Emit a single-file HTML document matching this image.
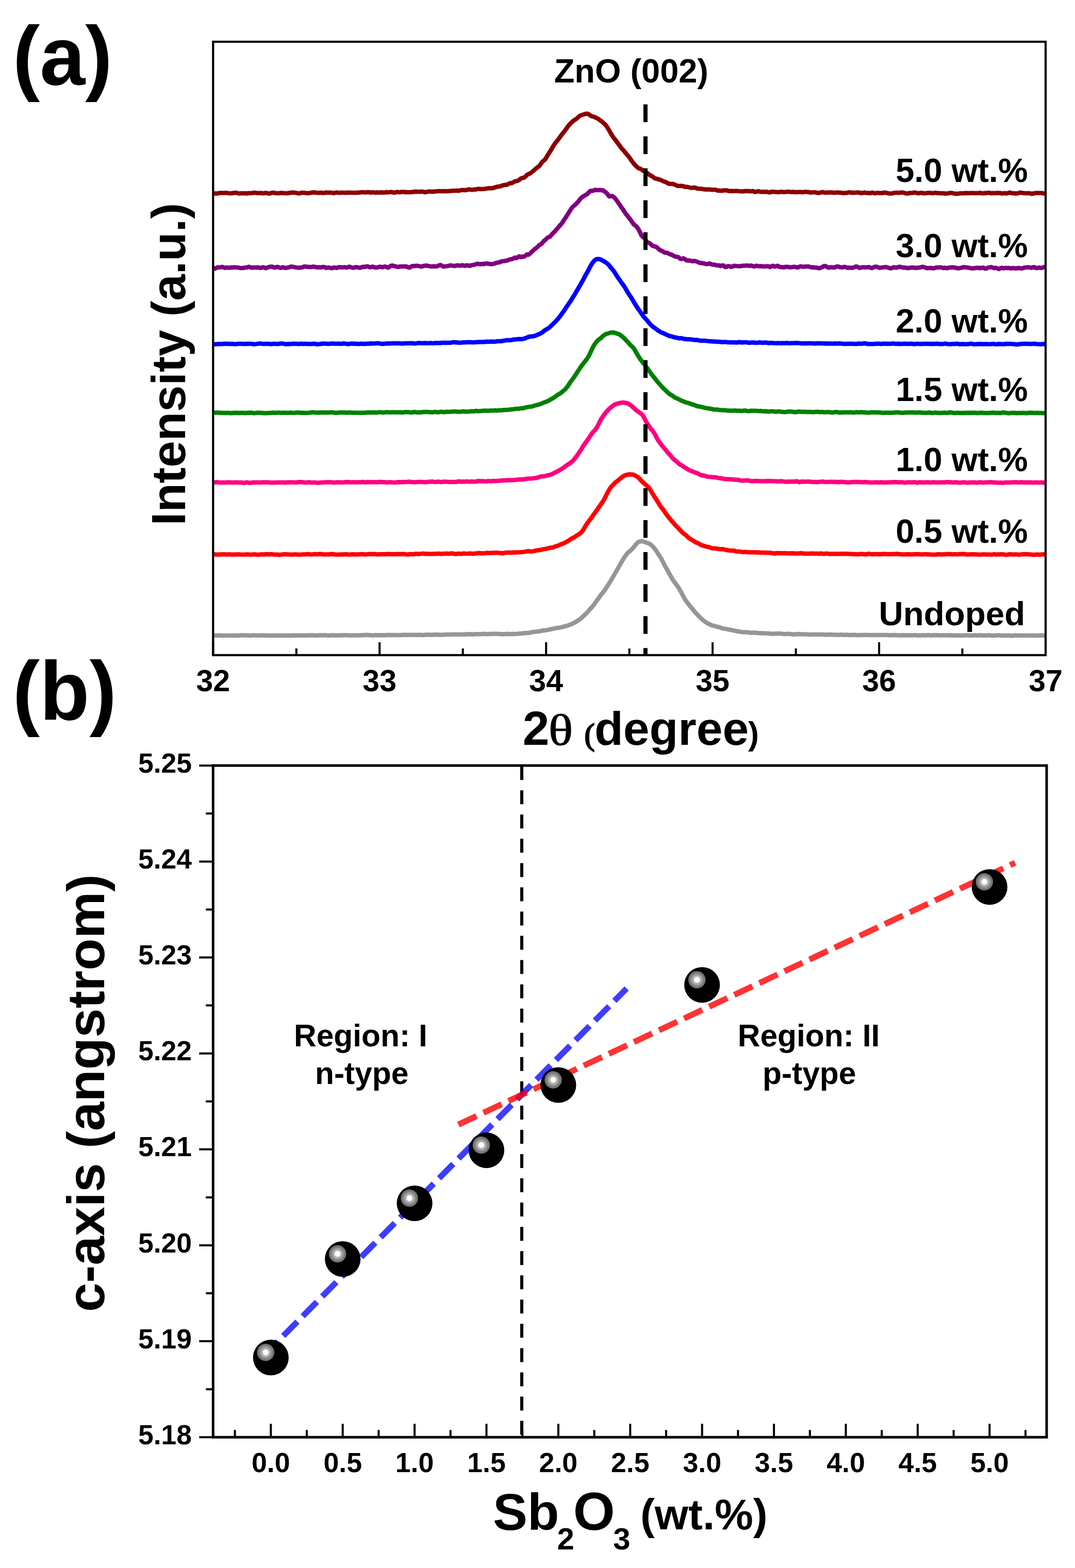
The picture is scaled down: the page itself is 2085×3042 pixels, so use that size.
<!DOCTYPE html>
<html><head><meta charset="utf-8"><title>ZnO XRD and c-axis</title>
<style>
html,body{margin:0;padding:0;background:#fff;}
body{width:2085px;height:3042px;overflow:hidden;}
svg{display:block;}
.b{font-family:'Liberation Sans', Arial, Helvetica, sans-serif;font-weight:bold;fill:#000;}
.s{font-family:'Liberation Serif','DejaVu Serif',serif;font-weight:normal;fill:#000;}
</style></head>
<body>
<svg width="2085" height="3042" viewBox="0 0 2085 3042">
<defs>
<radialGradient id="hl" cx="50%" cy="50%" r="50%">
<stop offset="0" stop-color="#fff"/><stop offset="0.3" stop-color="#fff"/>
<stop offset="0.34" stop-color="#c0c0c0"/><stop offset="0.46" stop-color="#b4b4b4"/>
<stop offset="0.49" stop-color="#a2a2a2"/><stop offset="0.66" stop-color="#9a9a9a"/>
<stop offset="0.69" stop-color="#808080"/><stop offset="0.93" stop-color="#747474"/>
<stop offset="1" stop-color="#1a1a1a"/>
</radialGradient>
</defs>
<rect width="2085" height="3042" fill="#fff"/>
<g id="panel-a">
<path d="M413.3,1233.0 L416.3,1233.1 L419.3,1233.0 L422.3,1232.8 L425.3,1232.8 L428.3,1232.8 L431.3,1232.9 L434.3,1233.2 L437.3,1233.1 L440.3,1232.8 L443.3,1233.0 L446.3,1233.1 L449.3,1233.0 L452.3,1232.9 L455.3,1232.8 L458.3,1233.1 L461.3,1232.9 L464.3,1232.7 L467.3,1232.6 L470.3,1232.5 L473.3,1232.5 L476.3,1232.6 L479.3,1232.7 L482.3,1232.8 L485.3,1233.0 L488.3,1232.9 L491.3,1232.5 L494.3,1232.5 L497.3,1232.8 L500.3,1232.9 L503.3,1232.7 L506.3,1232.6 L509.3,1232.7 L512.3,1232.6 L515.3,1232.9 L518.3,1232.9 L521.3,1232.7 L524.3,1233.0 L527.3,1232.9 L530.3,1232.8 L533.3,1232.9 L536.3,1232.9 L539.3,1232.7 L542.3,1232.7 L545.3,1233.0 L548.3,1232.8 L551.3,1232.7 L554.3,1233.0 L557.3,1232.7 L560.3,1233.0 L563.3,1233.2 L566.3,1232.7 L569.3,1232.6 L572.3,1232.9 L575.3,1232.8 L578.3,1232.8 L581.3,1232.8 L584.3,1232.8 L587.3,1233.1 L590.3,1232.8 L593.3,1232.7 L596.3,1232.7 L599.3,1232.7 L602.3,1232.5 L605.3,1232.4 L608.3,1232.6 L611.3,1232.8 L614.3,1233.0 L617.3,1232.6 L620.3,1232.3 L623.3,1232.6 L626.3,1232.4 L629.3,1232.3 L632.3,1232.5 L635.3,1232.8 L638.3,1232.9 L641.3,1232.7 L644.3,1232.5 L647.3,1232.5 L650.3,1232.8 L653.3,1232.7 L656.3,1232.4 L659.3,1232.6 L662.3,1232.6 L665.3,1232.5 L668.3,1232.3 L671.3,1232.3 L674.3,1232.4 L677.3,1232.6 L680.3,1232.7 L683.3,1232.6 L686.3,1232.5 L689.3,1232.5 L692.3,1232.5 L695.3,1232.6 L698.3,1232.5 L701.3,1232.3 L704.3,1232.2 L707.3,1232.2 L710.3,1231.8 L713.3,1232.0 L716.3,1232.2 L719.3,1232.2 L722.3,1232.7 L725.3,1232.5 L728.3,1232.1 L731.3,1232.2 L734.3,1232.4 L737.3,1232.3 L740.3,1232.2 L743.3,1232.3 L746.3,1232.4 L749.3,1232.1 L752.3,1232.0 L755.3,1232.1 L758.3,1232.0 L761.3,1232.0 L764.3,1232.0 L767.3,1232.1 L770.3,1232.2 L773.3,1232.1 L776.3,1231.9 L779.3,1231.9 L782.3,1231.7 L785.3,1231.5 L788.3,1231.8 L791.3,1231.7 L794.3,1231.7 L797.3,1231.7 L800.3,1231.7 L803.3,1231.8 L806.3,1231.8 L809.3,1231.9 L812.3,1231.6 L815.3,1231.7 L818.3,1232.1 L821.3,1231.9 L824.3,1231.6 L827.3,1231.6 L830.3,1231.5 L833.3,1231.6 L836.3,1231.7 L839.3,1231.5 L842.3,1231.4 L845.3,1231.3 L848.3,1231.2 L851.3,1231.4 L854.3,1231.6 L857.3,1231.5 L860.3,1231.5 L863.3,1231.2 L866.3,1231.1 L869.3,1231.1 L872.3,1231.1 L875.3,1231.1 L878.3,1231.0 L881.3,1230.8 L884.3,1230.7 L887.3,1231.1 L890.3,1231.1 L893.3,1230.7 L896.3,1230.8 L899.3,1231.1 L902.3,1230.8 L905.3,1230.5 L908.3,1230.6 L911.3,1230.3 L914.3,1230.4 L917.3,1230.7 L920.3,1230.5 L923.3,1230.3 L926.3,1230.3 L929.3,1230.3 L932.3,1230.2 L935.3,1230.0 L938.3,1229.8 L941.3,1230.1 L944.3,1230.2 L947.3,1229.9 L950.3,1229.9 L953.3,1229.8 L956.3,1229.6 L959.3,1229.7 L962.3,1229.8 L965.3,1229.8 L968.3,1229.9 L971.3,1230.2 L974.3,1230.3 L977.3,1230.2 L980.3,1230.0 L983.3,1229.7 L986.3,1229.9 L989.3,1230.2 L992.3,1230.0 L995.3,1229.8 L998.3,1229.9 L1001.3,1229.8 L1004.3,1229.6 L1007.3,1229.2 L1010.3,1229.1 L1013.3,1228.7 L1016.3,1228.3 L1019.3,1228.2 L1022.3,1227.9 L1025.3,1227.7 L1028.3,1227.5 L1031.3,1226.6 L1034.3,1225.8 L1037.3,1225.7 L1040.3,1225.4 L1043.3,1224.9 L1046.3,1224.8 L1049.3,1224.1 L1052.3,1223.2 L1055.3,1223.0 L1058.3,1222.8 L1061.3,1222.2 L1064.3,1221.6 L1067.3,1221.0 L1070.3,1220.2 L1073.3,1219.7 L1076.3,1219.1 L1079.3,1218.3 L1082.3,1218.0 L1085.3,1217.6 L1088.3,1217.0 L1091.3,1216.3 L1094.3,1215.4 L1097.3,1214.6 L1100.3,1213.7 L1103.3,1212.8 L1106.3,1211.6 L1109.3,1210.3 L1112.3,1209.0 L1115.3,1207.6 L1118.3,1205.6 L1121.3,1203.6 L1124.3,1201.7 L1127.3,1199.3 L1130.3,1196.5 L1133.3,1193.6 L1136.3,1190.9 L1139.3,1187.8 L1142.3,1184.3 L1145.3,1180.9 L1148.3,1177.6 L1151.3,1174.0 L1154.3,1169.7 L1157.3,1165.6 L1160.3,1161.6 L1163.3,1157.1 L1166.3,1153.1 L1169.3,1149.8 L1172.3,1145.7 L1175.3,1141.1 L1178.3,1136.5 L1181.3,1132.1 L1184.3,1127.3 L1187.3,1122.0 L1190.3,1116.9 L1193.3,1111.6 L1196.3,1106.6 L1199.3,1101.4 L1202.3,1096.1 L1205.3,1090.7 L1208.3,1085.6 L1211.3,1080.8 L1214.3,1076.5 L1217.3,1073.0 L1220.3,1070.1 L1223.3,1067.7 L1226.3,1064.6 L1229.3,1061.2 L1232.3,1057.7 L1235.3,1053.9 L1238.3,1051.4 L1241.3,1050.5 L1244.3,1049.8 L1247.3,1050.2 L1250.3,1051.4 L1253.3,1052.5 L1256.3,1053.5 L1259.3,1054.7 L1262.3,1056.6 L1265.3,1059.3 L1268.3,1062.7 L1271.3,1066.4 L1274.3,1071.0 L1277.3,1075.6 L1280.3,1080.2 L1283.3,1085.3 L1286.3,1091.1 L1289.3,1097.1 L1292.3,1102.4 L1295.3,1107.7 L1298.3,1113.1 L1301.3,1118.4 L1304.3,1123.8 L1307.3,1128.2 L1310.3,1132.1 L1313.3,1136.1 L1316.3,1140.5 L1319.3,1145.7 L1322.3,1151.3 L1325.3,1156.8 L1328.3,1162.2 L1331.3,1166.8 L1334.3,1170.7 L1337.3,1174.5 L1340.3,1178.2 L1343.3,1181.8 L1346.3,1185.5 L1349.3,1188.8 L1352.3,1192.0 L1355.3,1195.3 L1358.3,1198.4 L1361.3,1201.1 L1364.3,1203.7 L1367.3,1206.0 L1370.3,1208.1 L1373.3,1209.8 L1376.3,1211.1 L1379.3,1212.7 L1382.3,1213.6 L1385.3,1214.2 L1388.3,1215.2 L1391.3,1216.0 L1394.3,1216.6 L1397.3,1217.5 L1400.3,1218.8 L1403.3,1219.5 L1406.3,1219.9 L1409.3,1220.4 L1412.3,1221.1 L1415.3,1221.7 L1418.3,1222.0 L1421.3,1223.0 L1424.3,1223.5 L1427.3,1224.0 L1430.3,1224.8 L1433.3,1225.2 L1436.3,1225.5 L1439.3,1226.3 L1442.3,1226.5 L1445.3,1226.4 L1448.3,1226.4 L1451.3,1226.7 L1454.3,1227.4 L1457.3,1227.7 L1460.3,1227.5 L1463.3,1227.4 L1466.3,1227.6 L1469.3,1228.0 L1472.3,1228.2 L1475.3,1228.3 L1478.3,1228.5 L1481.3,1228.5 L1484.3,1228.6 L1487.3,1228.8 L1490.3,1228.9 L1493.3,1229.1 L1496.3,1229.5 L1499.3,1229.6 L1502.3,1229.4 L1505.3,1229.1 L1508.3,1229.3 L1511.3,1229.3 L1514.3,1229.1 L1517.3,1229.6 L1520.3,1230.0 L1523.3,1230.0 L1526.3,1229.7 L1529.3,1229.7 L1532.3,1229.9 L1535.3,1230.2 L1538.3,1230.7 L1541.3,1230.7 L1544.3,1230.3 L1547.3,1230.1 L1550.3,1230.3 L1553.3,1230.5 L1556.3,1230.4 L1559.3,1230.5 L1562.3,1230.5 L1565.3,1230.7 L1568.3,1231.1 L1571.3,1231.2 L1574.3,1231.0 L1577.3,1230.9 L1580.3,1231.0 L1583.3,1230.9 L1586.3,1231.0 L1589.3,1230.9 L1592.3,1230.7 L1595.3,1231.1 L1598.3,1231.3 L1601.3,1231.3 L1604.3,1231.5 L1607.3,1231.2 L1610.3,1231.0 L1613.3,1231.3 L1616.3,1231.5 L1619.3,1231.5 L1622.3,1231.6 L1625.3,1231.7 L1628.3,1231.4 L1631.3,1231.3 L1634.3,1231.6 L1637.3,1231.8 L1640.3,1231.5 L1643.3,1231.6 L1646.3,1232.0 L1649.3,1232.0 L1652.3,1231.9 L1655.3,1231.7 L1658.3,1231.6 L1661.3,1232.1 L1664.3,1232.2 L1667.3,1232.1 L1670.3,1232.1 L1673.3,1231.9 L1676.3,1231.7 L1679.3,1231.7 L1682.3,1232.1 L1685.3,1232.0 L1688.3,1232.0 L1691.3,1232.3 L1694.3,1232.0 L1697.3,1231.9 L1700.3,1232.0 L1703.3,1232.1 L1706.3,1232.1 L1709.3,1232.0 L1712.3,1232.0 L1715.3,1232.0 L1718.3,1231.9 L1721.3,1232.0 L1724.3,1232.4 L1727.3,1232.2 L1730.3,1232.1 L1733.3,1232.2 L1736.3,1232.1 L1739.3,1232.3 L1742.3,1232.4 L1745.3,1232.5 L1748.3,1232.5 L1751.3,1232.3 L1754.3,1232.4 L1757.3,1232.3 L1760.3,1232.4 L1763.3,1232.5 L1766.3,1232.5 L1769.3,1232.5 L1772.3,1232.3 L1775.3,1232.3 L1778.3,1232.5 L1781.3,1232.7 L1784.3,1232.5 L1787.3,1232.4 L1790.3,1232.3 L1793.3,1232.4 L1796.3,1232.5 L1799.3,1232.1 L1802.3,1232.3 L1805.3,1232.7 L1808.3,1232.5 L1811.3,1232.2 L1814.3,1232.3 L1817.3,1232.3 L1820.3,1232.5 L1823.3,1232.6 L1826.3,1232.4 L1829.3,1232.6 L1832.3,1232.6 L1835.3,1232.6 L1838.3,1232.6 L1841.3,1232.4 L1844.3,1232.2 L1847.3,1232.7 L1850.3,1232.9 L1853.3,1232.7 L1856.3,1232.8 L1859.3,1232.8 L1862.3,1232.8 L1865.3,1233.0 L1868.3,1232.9 L1871.3,1232.4 L1874.3,1232.4 L1877.3,1232.4 L1880.3,1232.7 L1883.3,1233.0 L1886.3,1232.8 L1889.3,1232.5 L1892.3,1232.6 L1895.3,1233.0 L1898.3,1232.6 L1901.3,1232.5 L1904.3,1232.8 L1907.3,1232.8 L1910.3,1232.8 L1913.3,1232.7 L1916.3,1232.6 L1919.3,1232.5 L1922.3,1232.9 L1925.3,1233.2 L1928.3,1232.9 L1931.3,1232.7 L1934.3,1232.5 L1937.3,1232.6 L1940.3,1232.8 L1943.3,1232.9 L1946.3,1232.9 L1949.3,1232.7 L1952.3,1232.7 L1955.3,1232.9 L1958.3,1233.1 L1961.3,1233.4 L1964.3,1233.2 L1967.3,1232.8 L1970.3,1232.8 L1973.3,1232.9 L1976.3,1232.8 L1979.3,1232.8 L1982.3,1232.8 L1985.3,1232.9 L1988.3,1233.1 L1991.3,1233.0 L1994.3,1233.0 L1997.3,1232.9 L2000.3,1232.7 L2003.3,1232.8 L2006.3,1232.9 L2009.3,1233.0 L2012.3,1233.0 L2015.3,1232.8 L2018.3,1232.8 L2021.3,1232.8 L2024.3,1232.7 L2027.3,1232.9" fill="none" stroke="#969696" stroke-width="8.5" stroke-linejoin="round"/>
<path d="M413.3,1075.4 L416.3,1075.4 L419.3,1075.9 L422.3,1075.8 L425.3,1075.7 L428.3,1075.6 L431.3,1075.5 L434.3,1075.5 L437.3,1075.6 L440.3,1075.7 L443.3,1075.6 L446.3,1075.6 L449.3,1075.9 L452.3,1075.8 L455.3,1075.7 L458.3,1075.8 L461.3,1075.5 L464.3,1075.5 L467.3,1075.9 L470.3,1075.9 L473.3,1075.9 L476.3,1075.7 L479.3,1075.6 L482.3,1075.8 L485.3,1076.0 L488.3,1075.9 L491.3,1075.5 L494.3,1075.5 L497.3,1076.1 L500.3,1076.2 L503.3,1076.0 L506.3,1075.4 L509.3,1075.6 L512.3,1075.9 L515.3,1075.1 L518.3,1075.2 L521.3,1075.5 L524.3,1075.1 L527.3,1075.3 L530.3,1075.8 L533.3,1075.9 L536.3,1075.7 L539.3,1076.1 L542.3,1076.4 L545.3,1076.0 L548.3,1075.6 L551.3,1075.3 L554.3,1075.2 L557.3,1075.6 L560.3,1075.8 L563.3,1075.8 L566.3,1075.9 L569.3,1075.7 L572.3,1075.4 L575.3,1075.8 L578.3,1075.9 L581.3,1076.0 L584.3,1075.9 L587.3,1075.6 L590.3,1075.6 L593.3,1075.4 L596.3,1075.0 L599.3,1075.3 L602.3,1075.7 L605.3,1075.6 L608.3,1075.2 L611.3,1075.1 L614.3,1075.3 L617.3,1075.2 L620.3,1074.8 L623.3,1074.9 L626.3,1075.6 L629.3,1075.8 L632.3,1075.4 L635.3,1075.4 L638.3,1075.7 L641.3,1075.0 L644.3,1074.8 L647.3,1075.6 L650.3,1075.7 L653.3,1076.0 L656.3,1076.1 L659.3,1075.8 L662.3,1075.6 L665.3,1075.7 L668.3,1075.5 L671.3,1075.3 L674.3,1075.6 L677.3,1076.0 L680.3,1075.8 L683.3,1075.3 L686.3,1075.4 L689.3,1075.7 L692.3,1075.6 L695.3,1075.6 L698.3,1075.4 L701.3,1075.0 L704.3,1075.2 L707.3,1075.4 L710.3,1075.7 L713.3,1075.1 L716.3,1074.7 L719.3,1075.1 L722.3,1075.1 L725.3,1074.7 L728.3,1075.1 L731.3,1075.5 L734.3,1075.4 L737.3,1075.2 L740.3,1075.3 L743.3,1075.3 L746.3,1075.3 L749.3,1075.1 L752.3,1074.7 L755.3,1074.9 L758.3,1074.9 L761.3,1075.0 L764.3,1075.2 L767.3,1074.9 L770.3,1074.8 L773.3,1074.9 L776.3,1075.1 L779.3,1075.0 L782.3,1074.7 L785.3,1075.1 L788.3,1075.7 L791.3,1075.8 L794.3,1075.3 L797.3,1074.9 L800.3,1075.2 L803.3,1075.1 L806.3,1074.5 L809.3,1074.6 L812.3,1074.9 L815.3,1074.6 L818.3,1074.1 L821.3,1074.0 L824.3,1074.5 L827.3,1074.6 L830.3,1074.4 L833.3,1074.6 L836.3,1074.7 L839.3,1074.6 L842.3,1074.5 L845.3,1074.4 L848.3,1074.2 L851.3,1074.1 L854.3,1074.4 L857.3,1074.6 L860.3,1074.2 L863.3,1074.1 L866.3,1074.1 L869.3,1074.3 L872.3,1074.0 L875.3,1073.6 L878.3,1073.8 L881.3,1074.6 L884.3,1074.8 L887.3,1074.2 L890.3,1074.1 L893.3,1074.6 L896.3,1074.3 L899.3,1073.7 L902.3,1074.0 L905.3,1074.2 L908.3,1074.0 L911.3,1073.7 L914.3,1074.0 L917.3,1074.4 L920.3,1074.1 L923.3,1073.8 L926.3,1073.1 L929.3,1073.1 L932.3,1073.4 L935.3,1073.3 L938.3,1073.5 L941.3,1073.2 L944.3,1072.6 L947.3,1072.7 L950.3,1072.9 L953.3,1072.6 L956.3,1072.6 L959.3,1072.5 L962.3,1072.1 L965.3,1072.5 L968.3,1073.1 L971.3,1073.1 L974.3,1073.4 L977.3,1073.1 L980.3,1072.2 L983.3,1072.0 L986.3,1072.0 L989.3,1072.0 L992.3,1072.2 L995.3,1071.8 L998.3,1071.7 L1001.3,1071.7 L1004.3,1071.5 L1007.3,1071.6 L1010.3,1071.2 L1013.3,1071.0 L1016.3,1070.6 L1019.3,1070.2 L1022.3,1069.6 L1025.3,1069.3 L1028.3,1069.8 L1031.3,1069.9 L1034.3,1069.4 L1037.3,1068.7 L1040.3,1067.9 L1043.3,1067.6 L1046.3,1067.3 L1049.3,1066.5 L1052.3,1065.9 L1055.3,1065.4 L1058.3,1064.8 L1061.3,1064.2 L1064.3,1063.3 L1067.3,1062.6 L1070.3,1062.5 L1073.3,1061.8 L1076.3,1060.3 L1079.3,1059.5 L1082.3,1058.7 L1085.3,1057.2 L1088.3,1055.7 L1091.3,1054.9 L1094.3,1053.6 L1097.3,1051.8 L1100.3,1050.5 L1103.3,1048.5 L1106.3,1046.3 L1109.3,1044.5 L1112.3,1043.2 L1115.3,1041.3 L1118.3,1039.0 L1121.3,1037.4 L1124.3,1035.4 L1127.3,1032.9 L1130.3,1029.5 L1133.3,1024.4 L1136.3,1019.3 L1139.3,1014.9 L1142.3,1010.6 L1145.3,1006.9 L1148.3,1003.0 L1151.3,998.4 L1154.3,994.4 L1157.3,990.2 L1160.3,985.7 L1163.3,981.6 L1166.3,977.3 L1169.3,972.9 L1172.3,968.0 L1175.3,961.7 L1178.3,955.8 L1181.3,950.5 L1184.3,945.8 L1187.3,942.4 L1190.3,939.4 L1193.3,936.2 L1196.3,933.9 L1199.3,931.7 L1202.3,928.9 L1205.3,926.4 L1208.3,924.3 L1211.3,922.6 L1214.3,921.5 L1217.3,920.8 L1220.3,920.3 L1223.3,920.4 L1226.3,920.5 L1229.3,921.2 L1232.3,922.8 L1235.3,924.6 L1238.3,926.7 L1241.3,929.8 L1244.3,933.3 L1247.3,936.0 L1250.3,938.7 L1253.3,941.2 L1256.3,943.9 L1259.3,947.3 L1262.3,952.0 L1265.3,957.1 L1268.3,962.2 L1271.3,966.7 L1274.3,971.2 L1277.3,976.1 L1280.3,981.2 L1283.3,985.2 L1286.3,988.8 L1289.3,993.1 L1292.3,997.6 L1295.3,1001.6 L1298.3,1005.2 L1301.3,1009.1 L1304.3,1012.5 L1307.3,1015.7 L1310.3,1019.3 L1313.3,1022.3 L1316.3,1025.2 L1319.3,1028.6 L1322.3,1031.8 L1325.3,1034.6 L1328.3,1036.8 L1331.3,1039.2 L1334.3,1042.2 L1337.3,1044.6 L1340.3,1046.6 L1343.3,1048.2 L1346.3,1050.3 L1349.3,1052.0 L1352.3,1053.2 L1355.3,1054.6 L1358.3,1056.5 L1361.3,1057.9 L1364.3,1058.9 L1367.3,1059.7 L1370.3,1060.5 L1373.3,1061.3 L1376.3,1061.8 L1379.3,1063.1 L1382.3,1063.9 L1385.3,1063.7 L1388.3,1064.0 L1391.3,1064.6 L1394.3,1065.3 L1397.3,1065.5 L1400.3,1065.2 L1403.3,1065.7 L1406.3,1066.5 L1409.3,1067.0 L1412.3,1067.6 L1415.3,1068.0 L1418.3,1068.2 L1421.3,1068.3 L1424.3,1068.6 L1427.3,1069.7 L1430.3,1070.0 L1433.3,1070.0 L1436.3,1070.2 L1439.3,1071.0 L1442.3,1070.9 L1445.3,1070.7 L1448.3,1071.1 L1451.3,1071.4 L1454.3,1071.4 L1457.3,1071.4 L1460.3,1071.5 L1463.3,1071.6 L1466.3,1071.8 L1469.3,1071.6 L1472.3,1071.7 L1475.3,1072.3 L1478.3,1072.1 L1481.3,1072.0 L1484.3,1072.4 L1487.3,1072.3 L1490.3,1072.3 L1493.3,1072.4 L1496.3,1072.7 L1499.3,1073.5 L1502.3,1073.8 L1505.3,1073.3 L1508.3,1073.0 L1511.3,1073.2 L1514.3,1073.1 L1517.3,1073.5 L1520.3,1073.2 L1523.3,1073.2 L1526.3,1073.5 L1529.3,1073.6 L1532.3,1073.7 L1535.3,1073.3 L1538.3,1073.4 L1541.3,1073.8 L1544.3,1073.8 L1547.3,1073.7 L1550.3,1073.7 L1553.3,1073.1 L1556.3,1073.5 L1559.3,1074.2 L1562.3,1074.0 L1565.3,1073.9 L1568.3,1074.2 L1571.3,1074.1 L1574.3,1073.7 L1577.3,1073.8 L1580.3,1074.3 L1583.3,1074.1 L1586.3,1074.1 L1589.3,1074.3 L1592.3,1073.8 L1595.3,1074.3 L1598.3,1074.5 L1601.3,1074.0 L1604.3,1073.9 L1607.3,1074.5 L1610.3,1074.9 L1613.3,1074.6 L1616.3,1074.4 L1619.3,1074.7 L1622.3,1074.5 L1625.3,1074.4 L1628.3,1074.6 L1631.3,1074.4 L1634.3,1074.3 L1637.3,1074.5 L1640.3,1074.6 L1643.3,1074.5 L1646.3,1074.4 L1649.3,1074.8 L1652.3,1075.0 L1655.3,1075.0 L1658.3,1075.2 L1661.3,1075.2 L1664.3,1075.4 L1667.3,1075.1 L1670.3,1074.8 L1673.3,1075.0 L1676.3,1075.2 L1679.3,1075.7 L1682.3,1074.8 L1685.3,1074.3 L1688.3,1074.9 L1691.3,1075.3 L1694.3,1075.3 L1697.3,1075.1 L1700.3,1075.1 L1703.3,1075.3 L1706.3,1075.1 L1709.3,1075.2 L1712.3,1074.8 L1715.3,1074.7 L1718.3,1075.0 L1721.3,1075.1 L1724.3,1075.3 L1727.3,1074.9 L1730.3,1075.0 L1733.3,1075.0 L1736.3,1074.7 L1739.3,1074.6 L1742.3,1074.8 L1745.3,1075.3 L1748.3,1075.5 L1751.3,1075.4 L1754.3,1075.4 L1757.3,1075.5 L1760.3,1075.2 L1763.3,1075.4 L1766.3,1075.6 L1769.3,1075.4 L1772.3,1075.2 L1775.3,1075.2 L1778.3,1075.3 L1781.3,1075.1 L1784.3,1075.4 L1787.3,1075.5 L1790.3,1075.4 L1793.3,1075.3 L1796.3,1075.3 L1799.3,1075.5 L1802.3,1075.4 L1805.3,1075.7 L1808.3,1075.9 L1811.3,1075.9 L1814.3,1076.0 L1817.3,1075.5 L1820.3,1075.2 L1823.3,1075.4 L1826.3,1075.6 L1829.3,1075.5 L1832.3,1075.4 L1835.3,1075.0 L1838.3,1075.0 L1841.3,1074.9 L1844.3,1075.1 L1847.3,1075.4 L1850.3,1075.2 L1853.3,1075.3 L1856.3,1075.5 L1859.3,1075.3 L1862.3,1074.8 L1865.3,1074.9 L1868.3,1074.8 L1871.3,1074.9 L1874.3,1075.7 L1877.3,1075.7 L1880.3,1075.5 L1883.3,1075.4 L1886.3,1075.3 L1889.3,1075.6 L1892.3,1075.5 L1895.3,1075.7 L1898.3,1076.1 L1901.3,1076.0 L1904.3,1075.7 L1907.3,1075.4 L1910.3,1075.5 L1913.3,1075.7 L1916.3,1075.8 L1919.3,1075.8 L1922.3,1076.0 L1925.3,1075.6 L1928.3,1075.1 L1931.3,1075.8 L1934.3,1075.8 L1937.3,1075.4 L1940.3,1075.4 L1943.3,1075.3 L1946.3,1075.4 L1949.3,1076.3 L1952.3,1076.5 L1955.3,1075.7 L1958.3,1075.2 L1961.3,1075.4 L1964.3,1075.8 L1967.3,1075.7 L1970.3,1075.4 L1973.3,1075.8 L1976.3,1076.1 L1979.3,1075.8 L1982.3,1075.4 L1985.3,1075.1 L1988.3,1075.2 L1991.3,1075.1 L1994.3,1075.4 L1997.3,1075.8 L2000.3,1075.7 L2003.3,1076.3 L2006.3,1076.4 L2009.3,1075.8 L2012.3,1075.7 L2015.3,1076.2 L2018.3,1075.9 L2021.3,1075.4 L2024.3,1075.5 L2027.3,1075.4" fill="none" stroke="#ff0000" stroke-width="8.5" stroke-linejoin="round"/>
<path d="M413.3,936.5 L416.3,935.9 L419.3,935.3 L422.3,935.8 L425.3,936.0 L428.3,936.1 L431.3,936.2 L434.3,936.1 L437.3,936.3 L440.3,935.9 L443.3,935.6 L446.3,935.9 L449.3,936.0 L452.3,936.2 L455.3,935.9 L458.3,935.7 L461.3,936.1 L464.3,936.3 L467.3,936.0 L470.3,936.4 L473.3,937.0 L476.3,936.3 L479.3,935.8 L482.3,936.7 L485.3,936.8 L488.3,936.3 L491.3,936.0 L494.3,935.9 L497.3,935.9 L500.3,935.9 L503.3,936.1 L506.3,936.1 L509.3,935.8 L512.3,935.6 L515.3,935.7 L518.3,935.8 L521.3,935.8 L524.3,936.2 L527.3,936.3 L530.3,936.2 L533.3,936.2 L536.3,936.1 L539.3,936.0 L542.3,935.9 L545.3,936.1 L548.3,935.9 L551.3,936.0 L554.3,936.3 L557.3,935.8 L560.3,935.7 L563.3,935.7 L566.3,935.8 L569.3,935.8 L572.3,936.0 L575.3,936.0 L578.3,935.2 L581.3,935.2 L584.3,935.3 L587.3,935.4 L590.3,936.1 L593.3,936.3 L596.3,935.7 L599.3,935.4 L602.3,936.1 L605.3,936.3 L608.3,935.9 L611.3,936.1 L614.3,936.6 L617.3,936.7 L620.3,936.2 L623.3,936.0 L626.3,936.1 L629.3,935.8 L632.3,935.4 L635.3,935.6 L638.3,935.6 L641.3,935.6 L644.3,935.8 L647.3,936.3 L650.3,936.1 L653.3,935.6 L656.3,935.7 L659.3,935.8 L662.3,936.1 L665.3,935.9 L668.3,935.4 L671.3,935.2 L674.3,935.1 L677.3,935.6 L680.3,935.8 L683.3,935.5 L686.3,935.4 L689.3,935.6 L692.3,935.8 L695.3,935.6 L698.3,935.5 L701.3,935.2 L704.3,935.0 L707.3,935.7 L710.3,935.5 L713.3,935.0 L716.3,935.6 L719.3,935.5 L722.3,935.3 L725.3,935.4 L728.3,935.5 L731.3,935.5 L734.3,935.1 L737.3,935.1 L740.3,935.3 L743.3,935.2 L746.3,935.4 L749.3,935.7 L752.3,935.8 L755.3,935.5 L758.3,935.5 L761.3,935.9 L764.3,935.9 L767.3,935.9 L770.3,935.6 L773.3,935.3 L776.3,935.5 L779.3,935.2 L782.3,935.0 L785.3,935.2 L788.3,935.1 L791.3,934.8 L794.3,934.6 L797.3,935.0 L800.3,935.4 L803.3,935.6 L806.3,935.4 L809.3,935.1 L812.3,934.9 L815.3,935.0 L818.3,935.1 L821.3,935.2 L824.3,935.6 L827.3,935.4 L830.3,934.7 L833.3,934.5 L836.3,934.4 L839.3,934.3 L842.3,934.9 L845.3,935.2 L848.3,934.6 L851.3,934.6 L854.3,935.2 L857.3,935.0 L860.3,934.5 L863.3,934.5 L866.3,934.7 L869.3,934.9 L872.3,935.0 L875.3,935.1 L878.3,935.1 L881.3,935.1 L884.3,935.0 L887.3,934.3 L890.3,934.1 L893.3,934.4 L896.3,934.3 L899.3,934.4 L902.3,934.4 L905.3,933.9 L908.3,934.3 L911.3,934.6 L914.3,934.3 L917.3,934.3 L920.3,934.5 L923.3,934.3 L926.3,933.4 L929.3,933.1 L932.3,933.5 L935.3,933.4 L938.3,933.5 L941.3,933.9 L944.3,933.7 L947.3,933.1 L950.3,933.6 L953.3,933.7 L956.3,932.9 L959.3,933.0 L962.3,933.2 L965.3,932.8 L968.3,932.7 L971.3,932.6 L974.3,932.0 L977.3,932.0 L980.3,932.1 L983.3,931.8 L986.3,931.5 L989.3,931.4 L992.3,931.8 L995.3,931.5 L998.3,931.0 L1001.3,930.9 L1004.3,930.4 L1007.3,930.3 L1010.3,930.3 L1013.3,930.2 L1016.3,929.8 L1019.3,929.2 L1022.3,928.7 L1025.3,928.6 L1028.3,928.5 L1031.3,928.3 L1034.3,927.9 L1037.3,927.4 L1040.3,927.2 L1043.3,926.5 L1046.3,925.3 L1049.3,924.5 L1052.3,923.9 L1055.3,923.9 L1058.3,923.3 L1061.3,922.4 L1064.3,921.9 L1067.3,921.0 L1070.3,920.0 L1073.3,918.4 L1076.3,916.8 L1079.3,915.4 L1082.3,913.9 L1085.3,912.1 L1088.3,910.3 L1091.3,908.8 L1094.3,906.4 L1097.3,903.9 L1100.3,902.1 L1103.3,900.0 L1106.3,898.1 L1109.3,895.6 L1112.3,892.7 L1115.3,888.9 L1118.3,885.0 L1121.3,880.8 L1124.3,876.2 L1127.3,871.8 L1130.3,866.7 L1133.3,862.1 L1136.3,858.1 L1139.3,854.1 L1142.3,849.5 L1145.3,844.9 L1148.3,840.6 L1151.3,837.1 L1154.3,834.0 L1157.3,829.6 L1160.3,824.2 L1163.3,818.1 L1166.3,812.5 L1169.3,808.1 L1172.3,803.8 L1175.3,799.8 L1178.3,796.6 L1181.3,793.2 L1184.3,790.8 L1187.3,788.4 L1190.3,785.9 L1193.3,784.5 L1196.3,783.4 L1199.3,782.5 L1202.3,781.8 L1205.3,781.2 L1208.3,780.9 L1211.3,781.3 L1214.3,782.0 L1217.3,782.7 L1220.3,784.1 L1223.3,786.3 L1226.3,788.8 L1229.3,791.5 L1232.3,794.4 L1235.3,796.8 L1238.3,798.9 L1241.3,801.1 L1244.3,803.2 L1247.3,806.5 L1250.3,812.4 L1253.3,818.3 L1256.3,823.0 L1259.3,827.6 L1262.3,831.8 L1265.3,835.3 L1268.3,839.3 L1271.3,844.5 L1274.3,850.5 L1277.3,855.6 L1280.3,859.5 L1283.3,863.6 L1286.3,867.4 L1289.3,870.6 L1292.3,874.2 L1295.3,878.2 L1298.3,881.3 L1301.3,884.7 L1304.3,888.5 L1307.3,891.6 L1310.3,893.7 L1313.3,896.2 L1316.3,899.1 L1319.3,901.5 L1322.3,902.8 L1325.3,905.0 L1328.3,907.1 L1331.3,908.6 L1334.3,910.8 L1337.3,912.4 L1340.3,913.7 L1343.3,914.6 L1346.3,916.0 L1349.3,917.3 L1352.3,917.8 L1355.3,919.6 L1358.3,921.3 L1361.3,922.0 L1364.3,922.5 L1367.3,923.1 L1370.3,924.4 L1373.3,925.1 L1376.3,925.3 L1379.3,925.2 L1382.3,925.7 L1385.3,925.9 L1388.3,926.0 L1391.3,926.9 L1394.3,927.4 L1397.3,927.7 L1400.3,928.2 L1403.3,928.9 L1406.3,929.6 L1409.3,929.4 L1412.3,929.7 L1415.3,929.8 L1418.3,929.8 L1421.3,930.5 L1424.3,930.6 L1427.3,930.6 L1430.3,930.9 L1433.3,931.3 L1436.3,932.3 L1439.3,932.4 L1442.3,932.2 L1445.3,932.3 L1448.3,932.1 L1451.3,932.1 L1454.3,932.8 L1457.3,933.7 L1460.3,933.6 L1463.3,933.0 L1466.3,933.1 L1469.3,933.2 L1472.3,933.3 L1475.3,933.5 L1478.3,933.5 L1481.3,933.6 L1484.3,933.5 L1487.3,933.3 L1490.3,933.1 L1493.3,933.2 L1496.3,933.3 L1499.3,933.4 L1502.3,933.6 L1505.3,933.7 L1508.3,934.0 L1511.3,933.8 L1514.3,933.5 L1517.3,933.7 L1520.3,934.1 L1523.3,934.7 L1526.3,934.8 L1529.3,934.3 L1532.3,934.5 L1535.3,934.3 L1538.3,934.3 L1541.3,934.6 L1544.3,933.6 L1547.3,934.4 L1550.3,935.4 L1553.3,934.6 L1556.3,934.3 L1559.3,934.6 L1562.3,934.6 L1565.3,934.3 L1568.3,934.2 L1571.3,934.6 L1574.3,934.9 L1577.3,935.1 L1580.3,935.1 L1583.3,935.3 L1586.3,935.2 L1589.3,934.7 L1592.3,934.5 L1595.3,934.2 L1598.3,934.9 L1601.3,935.0 L1604.3,934.9 L1607.3,935.1 L1610.3,934.8 L1613.3,934.7 L1616.3,934.9 L1619.3,934.8 L1622.3,935.1 L1625.3,935.4 L1628.3,935.1 L1631.3,934.8 L1634.3,935.0 L1637.3,935.2 L1640.3,935.4 L1643.3,936.0 L1646.3,936.0 L1649.3,935.4 L1652.3,935.2 L1655.3,935.0 L1658.3,934.9 L1661.3,934.9 L1664.3,935.0 L1667.3,935.1 L1670.3,935.4 L1673.3,935.4 L1676.3,935.2 L1679.3,935.1 L1682.3,935.5 L1685.3,935.9 L1688.3,935.9 L1691.3,936.0 L1694.3,936.0 L1697.3,935.7 L1700.3,935.6 L1703.3,936.3 L1706.3,935.8 L1709.3,935.5 L1712.3,936.2 L1715.3,936.0 L1718.3,935.8 L1721.3,936.0 L1724.3,935.7 L1727.3,935.5 L1730.3,935.5 L1733.3,935.2 L1736.3,935.3 L1739.3,935.4 L1742.3,935.6 L1745.3,935.8 L1748.3,935.4 L1751.3,935.8 L1754.3,936.4 L1757.3,936.1 L1760.3,935.8 L1763.3,935.6 L1766.3,935.8 L1769.3,935.9 L1772.3,935.4 L1775.3,935.5 L1778.3,936.6 L1781.3,936.0 L1784.3,935.5 L1787.3,936.1 L1790.3,935.8 L1793.3,936.0 L1796.3,935.8 L1799.3,935.5 L1802.3,936.2 L1805.3,936.1 L1808.3,935.6 L1811.3,935.7 L1814.3,935.7 L1817.3,936.1 L1820.3,936.0 L1823.3,935.8 L1826.3,935.7 L1829.3,935.7 L1832.3,936.0 L1835.3,935.2 L1838.3,935.3 L1841.3,935.6 L1844.3,935.5 L1847.3,936.1 L1850.3,936.0 L1853.3,935.4 L1856.3,936.0 L1859.3,936.2 L1862.3,936.3 L1865.3,936.3 L1868.3,935.8 L1871.3,935.7 L1874.3,936.2 L1877.3,936.4 L1880.3,936.1 L1883.3,935.9 L1886.3,935.9 L1889.3,935.8 L1892.3,936.3 L1895.3,936.4 L1898.3,935.7 L1901.3,935.6 L1904.3,936.0 L1907.3,936.3 L1910.3,936.1 L1913.3,935.8 L1916.3,935.8 L1919.3,935.6 L1922.3,935.3 L1925.3,935.9 L1928.3,936.1 L1931.3,936.0 L1934.3,936.4 L1937.3,936.4 L1940.3,936.2 L1943.3,936.5 L1946.3,936.7 L1949.3,936.1 L1952.3,936.1 L1955.3,936.3 L1958.3,935.9 L1961.3,935.8 L1964.3,936.0 L1967.3,935.5 L1970.3,935.5 L1973.3,935.9 L1976.3,935.9 L1979.3,935.6 L1982.3,935.6 L1985.3,936.0 L1988.3,936.1 L1991.3,935.8 L1994.3,935.9 L1997.3,935.9 L2000.3,935.7 L2003.3,936.3 L2006.3,936.2 L2009.3,935.8 L2012.3,936.2 L2015.3,936.2 L2018.3,935.9 L2021.3,936.1 L2024.3,936.4 L2027.3,935.8" fill="none" stroke="#ff0080" stroke-width="8.5" stroke-linejoin="round"/>
<path d="M413.3,800.9 L416.3,800.7 L419.3,800.6 L422.3,800.6 L425.3,800.7 L428.3,801.0 L431.3,800.9 L434.3,800.9 L437.3,801.2 L440.3,801.0 L443.3,800.9 L446.3,801.5 L449.3,801.5 L452.3,801.0 L455.3,800.9 L458.3,800.8 L461.3,800.9 L464.3,801.3 L467.3,801.0 L470.3,800.8 L473.3,801.2 L476.3,801.2 L479.3,800.9 L482.3,800.8 L485.3,800.6 L488.3,800.7 L491.3,801.4 L494.3,801.4 L497.3,800.8 L500.3,800.7 L503.3,800.8 L506.3,801.1 L509.3,801.2 L512.3,801.5 L515.3,801.5 L518.3,801.3 L521.3,801.3 L524.3,801.1 L527.3,800.7 L530.3,800.6 L533.3,800.9 L536.3,800.8 L539.3,800.4 L542.3,800.6 L545.3,801.0 L548.3,800.7 L551.3,800.7 L554.3,800.8 L557.3,800.9 L560.3,800.7 L563.3,800.4 L566.3,800.7 L569.3,800.9 L572.3,800.8 L575.3,800.6 L578.3,800.5 L581.3,800.6 L584.3,801.1 L587.3,800.8 L590.3,800.9 L593.3,801.3 L596.3,800.9 L599.3,800.8 L602.3,800.6 L605.3,800.0 L608.3,800.1 L611.3,800.4 L614.3,800.6 L617.3,800.5 L620.3,800.6 L623.3,800.2 L626.3,800.3 L629.3,800.5 L632.3,800.2 L635.3,800.4 L638.3,800.3 L641.3,800.1 L644.3,800.1 L647.3,800.4 L650.3,800.7 L653.3,800.9 L656.3,800.5 L659.3,800.2 L662.3,800.2 L665.3,800.5 L668.3,800.2 L671.3,800.4 L674.3,800.7 L677.3,800.2 L680.3,800.4 L683.3,800.8 L686.3,800.8 L689.3,800.8 L692.3,800.7 L695.3,800.7 L698.3,801.0 L701.3,800.7 L704.3,800.7 L707.3,800.7 L710.3,800.4 L713.3,800.2 L716.3,800.1 L719.3,800.4 L722.3,800.2 L725.3,800.1 L728.3,800.5 L731.3,800.4 L734.3,799.8 L737.3,799.7 L740.3,800.3 L743.3,800.2 L746.3,800.0 L749.3,799.6 L752.3,799.7 L755.3,800.1 L758.3,800.1 L761.3,799.8 L764.3,799.8 L767.3,800.1 L770.3,800.1 L773.3,800.0 L776.3,799.6 L779.3,800.3 L782.3,800.2 L785.3,799.5 L788.3,799.6 L791.3,799.5 L794.3,799.9 L797.3,800.4 L800.3,800.0 L803.3,799.2 L806.3,799.6 L809.3,800.2 L812.3,800.1 L815.3,800.1 L818.3,799.7 L821.3,799.3 L824.3,799.2 L827.3,798.9 L830.3,799.4 L833.3,799.5 L836.3,799.7 L839.3,799.9 L842.3,799.2 L845.3,799.3 L848.3,799.8 L851.3,799.7 L854.3,799.0 L857.3,798.9 L860.3,799.5 L863.3,799.2 L866.3,798.7 L869.3,799.0 L872.3,799.1 L875.3,798.6 L878.3,798.5 L881.3,798.5 L884.3,798.6 L887.3,798.7 L890.3,798.8 L893.3,798.9 L896.3,798.3 L899.3,798.1 L902.3,798.6 L905.3,798.6 L908.3,798.5 L911.3,798.2 L914.3,797.7 L917.3,798.0 L920.3,797.9 L923.3,797.1 L926.3,797.5 L929.3,797.7 L932.3,797.3 L935.3,797.1 L938.3,796.8 L941.3,796.7 L944.3,796.8 L947.3,797.1 L950.3,796.5 L953.3,796.5 L956.3,796.6 L959.3,796.1 L962.3,796.4 L965.3,796.4 L968.3,795.7 L971.3,795.9 L974.3,795.8 L977.3,795.3 L980.3,795.3 L983.3,795.3 L986.3,794.9 L989.3,794.5 L992.3,794.2 L995.3,793.9 L998.3,793.6 L1001.3,792.9 L1004.3,793.1 L1007.3,792.9 L1010.3,792.0 L1013.3,792.0 L1016.3,791.6 L1019.3,790.4 L1022.3,790.0 L1025.3,789.4 L1028.3,788.9 L1031.3,788.8 L1034.3,787.8 L1037.3,786.7 L1040.3,786.1 L1043.3,785.4 L1046.3,784.3 L1049.3,783.4 L1052.3,782.1 L1055.3,780.7 L1058.3,779.8 L1061.3,778.5 L1064.3,777.1 L1067.3,775.3 L1070.3,773.7 L1073.3,772.1 L1076.3,769.9 L1079.3,767.7 L1082.3,765.6 L1085.3,764.0 L1088.3,761.9 L1091.3,759.3 L1094.3,757.0 L1097.3,754.0 L1100.3,750.4 L1103.3,746.0 L1106.3,741.2 L1109.3,737.2 L1112.3,733.2 L1115.3,728.8 L1118.3,724.2 L1121.3,719.6 L1124.3,715.2 L1127.3,710.6 L1130.3,706.6 L1133.3,702.8 L1136.3,699.0 L1139.3,694.9 L1142.3,690.1 L1145.3,683.7 L1148.3,677.2 L1151.3,671.2 L1154.3,666.4 L1157.3,662.8 L1160.3,659.5 L1163.3,657.4 L1166.3,655.1 L1169.3,652.1 L1172.3,649.8 L1175.3,648.0 L1178.3,647.2 L1181.3,646.3 L1184.3,645.4 L1187.3,645.0 L1190.3,645.1 L1193.3,646.0 L1196.3,647.1 L1199.3,647.9 L1202.3,649.3 L1205.3,651.8 L1208.3,654.0 L1211.3,656.9 L1214.3,660.3 L1217.3,663.2 L1220.3,666.7 L1223.3,670.1 L1226.3,672.6 L1229.3,675.9 L1232.3,681.0 L1235.3,686.4 L1238.3,691.3 L1241.3,696.1 L1244.3,699.9 L1247.3,703.8 L1250.3,707.8 L1253.3,711.6 L1256.3,715.6 L1259.3,719.7 L1262.3,724.1 L1265.3,728.1 L1268.3,731.8 L1271.3,735.5 L1274.3,739.4 L1277.3,742.9 L1280.3,746.3 L1283.3,749.8 L1286.3,753.0 L1289.3,755.9 L1292.3,758.6 L1295.3,761.5 L1298.3,764.3 L1301.3,766.0 L1304.3,767.7 L1307.3,770.0 L1310.3,771.8 L1313.3,772.9 L1316.3,774.5 L1319.3,776.0 L1322.3,777.6 L1325.3,778.7 L1328.3,780.0 L1331.3,780.9 L1334.3,781.6 L1337.3,782.6 L1340.3,783.8 L1343.3,785.0 L1346.3,785.5 L1349.3,786.8 L1352.3,788.0 L1355.3,788.5 L1358.3,789.0 L1361.3,789.7 L1364.3,790.5 L1367.3,791.4 L1370.3,791.8 L1373.3,792.2 L1376.3,792.7 L1379.3,793.2 L1382.3,793.8 L1385.3,794.8 L1388.3,794.6 L1391.3,794.6 L1394.3,795.2 L1397.3,795.6 L1400.3,795.7 L1403.3,795.8 L1406.3,795.9 L1409.3,796.3 L1412.3,796.7 L1415.3,796.6 L1418.3,796.7 L1421.3,796.8 L1424.3,796.4 L1427.3,796.6 L1430.3,797.0 L1433.3,796.8 L1436.3,796.9 L1439.3,797.2 L1442.3,796.8 L1445.3,796.4 L1448.3,797.1 L1451.3,797.7 L1454.3,797.3 L1457.3,796.8 L1460.3,796.9 L1463.3,797.1 L1466.3,797.0 L1469.3,797.2 L1472.3,797.4 L1475.3,797.2 L1478.3,797.7 L1481.3,797.9 L1484.3,797.8 L1487.3,798.1 L1490.3,798.4 L1493.3,798.2 L1496.3,798.1 L1499.3,798.1 L1502.3,798.5 L1505.3,798.9 L1508.3,798.3 L1511.3,798.2 L1514.3,798.7 L1517.3,798.9 L1520.3,799.2 L1523.3,799.4 L1526.3,798.9 L1529.3,798.6 L1532.3,798.5 L1535.3,798.6 L1538.3,799.0 L1541.3,799.6 L1544.3,799.6 L1547.3,798.6 L1550.3,798.5 L1553.3,799.0 L1556.3,798.9 L1559.3,798.7 L1562.3,799.0 L1565.3,799.3 L1568.3,799.3 L1571.3,799.1 L1574.3,799.4 L1577.3,799.5 L1580.3,799.2 L1583.3,799.0 L1586.3,799.0 L1589.3,799.5 L1592.3,799.3 L1595.3,799.2 L1598.3,799.8 L1601.3,799.7 L1604.3,799.6 L1607.3,799.5 L1610.3,799.8 L1613.3,800.3 L1616.3,800.1 L1619.3,799.4 L1622.3,799.2 L1625.3,799.8 L1628.3,800.5 L1631.3,800.3 L1634.3,800.3 L1637.3,800.1 L1640.3,799.8 L1643.3,799.9 L1646.3,800.1 L1649.3,799.8 L1652.3,799.9 L1655.3,800.6 L1658.3,800.1 L1661.3,799.5 L1664.3,799.9 L1667.3,800.1 L1670.3,799.5 L1673.3,799.8 L1676.3,800.4 L1679.3,800.1 L1682.3,800.6 L1685.3,800.7 L1688.3,800.1 L1691.3,800.1 L1694.3,800.1 L1697.3,799.9 L1700.3,800.2 L1703.3,800.3 L1706.3,800.1 L1709.3,800.6 L1712.3,800.9 L1715.3,800.7 L1718.3,800.7 L1721.3,800.6 L1724.3,800.8 L1727.3,800.7 L1730.3,800.8 L1733.3,800.6 L1736.3,800.2 L1739.3,800.1 L1742.3,800.1 L1745.3,800.5 L1748.3,800.9 L1751.3,800.7 L1754.3,800.4 L1757.3,800.4 L1760.3,800.3 L1763.3,800.1 L1766.3,800.3 L1769.3,800.2 L1772.3,800.2 L1775.3,800.6 L1778.3,800.5 L1781.3,800.2 L1784.3,800.1 L1787.3,800.7 L1790.3,800.8 L1793.3,800.7 L1796.3,801.1 L1799.3,800.7 L1802.3,800.3 L1805.3,800.7 L1808.3,801.3 L1811.3,800.9 L1814.3,800.4 L1817.3,800.9 L1820.3,801.0 L1823.3,801.3 L1826.3,801.1 L1829.3,800.7 L1832.3,800.6 L1835.3,800.9 L1838.3,801.1 L1841.3,800.1 L1844.3,800.3 L1847.3,800.7 L1850.3,801.2 L1853.3,801.2 L1856.3,800.7 L1859.3,800.9 L1862.3,801.3 L1865.3,801.2 L1868.3,801.1 L1871.3,801.2 L1874.3,800.9 L1877.3,800.8 L1880.3,800.9 L1883.3,800.7 L1886.3,800.9 L1889.3,800.8 L1892.3,800.8 L1895.3,801.4 L1898.3,801.1 L1901.3,800.7 L1904.3,800.7 L1907.3,801.0 L1910.3,801.2 L1913.3,801.2 L1916.3,801.2 L1919.3,801.0 L1922.3,800.9 L1925.3,800.6 L1928.3,800.8 L1931.3,801.2 L1934.3,800.9 L1937.3,801.1 L1940.3,801.4 L1943.3,800.5 L1946.3,800.3 L1949.3,800.7 L1952.3,800.9 L1955.3,801.8 L1958.3,801.4 L1961.3,800.9 L1964.3,801.0 L1967.3,801.0 L1970.3,801.2 L1973.3,801.4 L1976.3,801.1 L1979.3,801.2 L1982.3,801.2 L1985.3,800.9 L1988.3,801.4 L1991.3,801.5 L1994.3,801.0 L1997.3,800.7 L2000.3,800.8 L2003.3,800.9 L2006.3,801.3 L2009.3,801.0 L2012.3,800.9 L2015.3,801.3 L2018.3,801.3 L2021.3,801.3 L2024.3,801.5 L2027.3,801.5" fill="none" stroke="#008000" stroke-width="8.5" stroke-linejoin="round"/>
<path d="M413.3,667.6 L416.3,667.7 L419.3,667.9 L422.3,667.4 L425.3,667.2 L428.3,667.6 L431.3,667.3 L434.3,667.1 L437.3,666.7 L440.3,666.9 L443.3,667.1 L446.3,667.3 L449.3,667.1 L452.3,667.3 L455.3,667.7 L458.3,667.4 L461.3,667.1 L464.3,667.0 L467.3,666.9 L470.3,667.0 L473.3,667.2 L476.3,667.3 L479.3,667.0 L482.3,666.9 L485.3,667.0 L488.3,667.1 L491.3,667.8 L494.3,667.8 L497.3,667.4 L500.3,666.8 L503.3,666.6 L506.3,666.6 L509.3,667.0 L512.3,667.2 L515.3,667.1 L518.3,667.1 L521.3,667.1 L524.3,667.6 L527.3,667.4 L530.3,667.0 L533.3,667.0 L536.3,667.2 L539.3,667.2 L542.3,666.7 L545.3,666.6 L548.3,666.6 L551.3,667.0 L554.3,667.9 L557.3,667.5 L560.3,667.2 L563.3,667.4 L566.3,667.0 L569.3,666.8 L572.3,667.0 L575.3,666.9 L578.3,667.4 L581.3,667.1 L584.3,666.8 L587.3,667.3 L590.3,667.0 L593.3,667.0 L596.3,667.3 L599.3,667.3 L602.3,667.2 L605.3,667.3 L608.3,666.7 L611.3,666.9 L614.3,667.9 L617.3,667.7 L620.3,667.5 L623.3,666.9 L626.3,666.6 L629.3,666.8 L632.3,666.7 L635.3,667.0 L638.3,667.0 L641.3,666.7 L644.3,666.5 L647.3,666.4 L650.3,666.9 L653.3,666.8 L656.3,666.6 L659.3,667.1 L662.3,667.0 L665.3,666.3 L668.3,666.4 L671.3,666.9 L674.3,667.6 L677.3,667.3 L680.3,666.7 L683.3,666.5 L686.3,666.9 L689.3,666.8 L692.3,666.9 L695.3,667.4 L698.3,667.0 L701.3,666.8 L704.3,667.0 L707.3,667.2 L710.3,666.8 L713.3,666.7 L716.3,666.8 L719.3,666.3 L722.3,666.4 L725.3,666.5 L728.3,666.3 L731.3,665.9 L734.3,665.9 L737.3,666.6 L740.3,667.2 L743.3,667.0 L746.3,666.8 L749.3,666.6 L752.3,666.3 L755.3,666.4 L758.3,666.2 L761.3,665.9 L764.3,666.1 L767.3,666.2 L770.3,665.9 L773.3,666.1 L776.3,666.2 L779.3,666.4 L782.3,666.4 L785.3,666.1 L788.3,666.1 L791.3,666.1 L794.3,665.9 L797.3,665.8 L800.3,666.1 L803.3,666.3 L806.3,666.4 L809.3,665.8 L812.3,665.4 L815.3,665.6 L818.3,665.7 L821.3,665.7 L824.3,665.5 L827.3,665.8 L830.3,665.9 L833.3,665.4 L836.3,665.6 L839.3,666.1 L842.3,665.6 L845.3,665.5 L848.3,665.4 L851.3,665.4 L854.3,665.5 L857.3,665.0 L860.3,665.0 L863.3,664.9 L866.3,665.0 L869.3,665.1 L872.3,665.1 L875.3,664.8 L878.3,663.9 L881.3,664.0 L884.3,664.4 L887.3,664.3 L890.3,664.9 L893.3,664.9 L896.3,664.5 L899.3,664.3 L902.3,664.3 L905.3,664.1 L908.3,663.9 L911.3,663.8 L914.3,664.1 L917.3,664.2 L920.3,664.1 L923.3,663.9 L926.3,663.6 L929.3,663.5 L932.3,663.5 L935.3,663.6 L938.3,663.5 L941.3,663.0 L944.3,662.7 L947.3,663.1 L950.3,663.0 L953.3,662.5 L956.3,662.7 L959.3,662.9 L962.3,662.5 L965.3,661.9 L968.3,662.1 L971.3,662.1 L974.3,661.4 L977.3,661.1 L980.3,660.4 L983.3,659.9 L986.3,660.0 L989.3,660.1 L992.3,659.7 L995.3,659.0 L998.3,658.4 L1001.3,658.2 L1004.3,657.9 L1007.3,657.7 L1010.3,657.9 L1013.3,657.8 L1016.3,657.2 L1019.3,655.9 L1022.3,654.8 L1025.3,653.5 L1028.3,652.8 L1031.3,652.8 L1034.3,652.3 L1037.3,651.6 L1040.3,650.5 L1043.3,649.2 L1046.3,647.9 L1049.3,646.6 L1052.3,644.4 L1055.3,642.0 L1058.3,639.8 L1061.3,638.1 L1064.3,636.4 L1067.3,633.8 L1070.3,630.7 L1073.3,627.8 L1076.3,625.0 L1079.3,621.8 L1082.3,618.4 L1085.3,614.7 L1088.3,610.7 L1091.3,606.6 L1094.3,602.4 L1097.3,597.7 L1100.3,593.3 L1103.3,588.8 L1106.3,584.6 L1109.3,579.9 L1112.3,575.0 L1115.3,570.1 L1118.3,564.8 L1121.3,560.0 L1124.3,554.9 L1127.3,549.4 L1130.3,544.3 L1133.3,538.3 L1136.3,532.7 L1139.3,527.8 L1142.3,522.1 L1145.3,516.2 L1148.3,511.3 L1151.3,507.2 L1154.3,504.3 L1157.3,502.8 L1160.3,502.5 L1163.3,502.9 L1166.3,504.0 L1169.3,505.8 L1172.3,507.5 L1175.3,509.3 L1178.3,511.7 L1181.3,514.8 L1184.3,518.5 L1187.3,522.1 L1190.3,525.8 L1193.3,530.1 L1196.3,535.3 L1199.3,539.7 L1202.3,543.7 L1205.3,548.3 L1208.3,552.1 L1211.3,556.5 L1214.3,561.7 L1217.3,566.8 L1220.3,571.6 L1223.3,575.9 L1226.3,580.7 L1229.3,585.8 L1232.3,590.7 L1235.3,595.5 L1238.3,599.9 L1241.3,604.1 L1244.3,608.5 L1247.3,612.8 L1250.3,616.5 L1253.3,619.6 L1256.3,623.2 L1259.3,626.8 L1262.3,630.1 L1265.3,633.0 L1268.3,635.2 L1271.3,637.4 L1274.3,639.7 L1277.3,641.8 L1280.3,643.7 L1283.3,645.2 L1286.3,646.3 L1289.3,647.8 L1292.3,649.1 L1295.3,650.4 L1298.3,651.8 L1301.3,652.3 L1304.3,653.1 L1307.3,654.3 L1310.3,654.7 L1313.3,655.4 L1316.3,656.3 L1319.3,656.1 L1322.3,656.3 L1325.3,657.2 L1328.3,657.5 L1331.3,658.1 L1334.3,658.2 L1337.3,658.3 L1340.3,658.6 L1343.3,658.9 L1346.3,659.4 L1349.3,659.6 L1352.3,659.6 L1355.3,660.4 L1358.3,660.9 L1361.3,661.1 L1364.3,660.9 L1367.3,660.9 L1370.3,661.4 L1373.3,661.8 L1376.3,662.0 L1379.3,662.3 L1382.3,662.6 L1385.3,662.6 L1388.3,662.8 L1391.3,663.1 L1394.3,663.1 L1397.3,663.3 L1400.3,663.7 L1403.3,663.6 L1406.3,663.6 L1409.3,663.7 L1412.3,664.1 L1415.3,664.2 L1418.3,664.2 L1421.3,664.2 L1424.3,664.2 L1427.3,664.4 L1430.3,664.4 L1433.3,663.7 L1436.3,664.0 L1439.3,664.5 L1442.3,664.0 L1445.3,664.0 L1448.3,664.2 L1451.3,664.8 L1454.3,665.1 L1457.3,664.4 L1460.3,664.5 L1463.3,664.8 L1466.3,665.1 L1469.3,665.1 L1472.3,664.2 L1475.3,664.5 L1478.3,665.0 L1481.3,664.9 L1484.3,664.5 L1487.3,664.8 L1490.3,665.7 L1493.3,665.2 L1496.3,665.1 L1499.3,665.5 L1502.3,665.8 L1505.3,666.1 L1508.3,665.5 L1511.3,665.7 L1514.3,665.9 L1517.3,665.6 L1520.3,665.7 L1523.3,665.7 L1526.3,665.2 L1529.3,665.8 L1532.3,666.1 L1535.3,665.6 L1538.3,665.8 L1541.3,665.6 L1544.3,665.2 L1547.3,665.5 L1550.3,665.7 L1553.3,665.9 L1556.3,666.3 L1559.3,666.2 L1562.3,666.1 L1565.3,666.3 L1568.3,666.0 L1571.3,665.9 L1574.3,666.0 L1577.3,666.2 L1580.3,666.6 L1583.3,666.3 L1586.3,666.0 L1589.3,666.0 L1592.3,666.2 L1595.3,666.3 L1598.3,666.5 L1601.3,666.2 L1604.3,666.4 L1607.3,666.8 L1610.3,666.4 L1613.3,666.6 L1616.3,666.7 L1619.3,666.3 L1622.3,666.5 L1625.3,666.4 L1628.3,666.3 L1631.3,666.4 L1634.3,666.9 L1637.3,667.3 L1640.3,666.9 L1643.3,666.9 L1646.3,667.0 L1649.3,666.7 L1652.3,666.9 L1655.3,666.9 L1658.3,667.3 L1661.3,667.3 L1664.3,666.5 L1667.3,666.7 L1670.3,666.9 L1673.3,666.6 L1676.3,666.0 L1679.3,666.3 L1682.3,667.2 L1685.3,667.2 L1688.3,667.2 L1691.3,667.4 L1694.3,667.2 L1697.3,667.0 L1700.3,666.9 L1703.3,666.6 L1706.3,667.0 L1709.3,667.2 L1712.3,666.7 L1715.3,666.7 L1718.3,667.0 L1721.3,666.7 L1724.3,666.9 L1727.3,667.0 L1730.3,666.5 L1733.3,666.4 L1736.3,667.1 L1739.3,667.0 L1742.3,666.7 L1745.3,667.2 L1748.3,667.3 L1751.3,666.9 L1754.3,666.7 L1757.3,667.0 L1760.3,667.3 L1763.3,667.1 L1766.3,666.7 L1769.3,667.0 L1772.3,667.5 L1775.3,667.4 L1778.3,667.0 L1781.3,667.1 L1784.3,667.2 L1787.3,667.3 L1790.3,667.0 L1793.3,666.9 L1796.3,667.1 L1799.3,666.9 L1802.3,666.9 L1805.3,667.2 L1808.3,667.1 L1811.3,667.2 L1814.3,666.9 L1817.3,666.8 L1820.3,667.3 L1823.3,667.3 L1826.3,667.5 L1829.3,667.2 L1832.3,666.6 L1835.3,666.9 L1838.3,667.4 L1841.3,667.8 L1844.3,667.8 L1847.3,667.2 L1850.3,667.2 L1853.3,667.2 L1856.3,666.7 L1859.3,667.5 L1862.3,667.9 L1865.3,667.5 L1868.3,667.6 L1871.3,667.8 L1874.3,667.8 L1877.3,667.6 L1880.3,667.3 L1883.3,666.7 L1886.3,667.3 L1889.3,668.0 L1892.3,667.8 L1895.3,667.5 L1898.3,667.4 L1901.3,667.2 L1904.3,667.5 L1907.3,667.8 L1910.3,667.6 L1913.3,667.5 L1916.3,667.7 L1919.3,667.7 L1922.3,667.6 L1925.3,667.3 L1928.3,667.2 L1931.3,668.0 L1934.3,667.7 L1937.3,667.2 L1940.3,667.5 L1943.3,667.8 L1946.3,667.7 L1949.3,667.2 L1952.3,667.1 L1955.3,667.2 L1958.3,666.9 L1961.3,667.3 L1964.3,667.5 L1967.3,667.5 L1970.3,668.3 L1973.3,668.3 L1976.3,667.8 L1979.3,667.4 L1982.3,667.1 L1985.3,667.0 L1988.3,667.1 L1991.3,667.1 L1994.3,667.0 L1997.3,667.2 L2000.3,667.2 L2003.3,666.9 L2006.3,666.8 L2009.3,667.2 L2012.3,667.6 L2015.3,667.7 L2018.3,667.9 L2021.3,667.6 L2024.3,667.5 L2027.3,667.3" fill="none" stroke="#0000ff" stroke-width="8.5" stroke-linejoin="round"/>
<path d="M413.3,520.7 L416.3,521.4 L419.3,519.9 L422.3,518.5 L425.3,518.8 L428.3,518.4 L431.3,517.7 L434.3,519.2 L437.3,519.7 L440.3,519.0 L443.3,519.5 L446.3,519.2 L449.3,518.8 L452.3,519.1 L455.3,518.4 L458.3,519.0 L461.3,518.9 L464.3,519.7 L467.3,520.0 L470.3,520.0 L473.3,519.7 L476.3,518.9 L479.3,518.8 L482.3,517.6 L485.3,518.4 L488.3,519.6 L491.3,518.8 L494.3,519.1 L497.3,519.3 L500.3,518.7 L503.3,519.4 L506.3,519.7 L509.3,518.4 L512.3,519.0 L515.3,520.4 L518.3,519.1 L521.3,518.2 L524.3,517.4 L527.3,517.2 L530.3,518.5 L533.3,519.1 L536.3,518.1 L539.3,518.0 L542.3,519.6 L545.3,519.7 L548.3,518.4 L551.3,519.4 L554.3,520.0 L557.3,519.2 L560.3,518.6 L563.3,517.6 L566.3,517.3 L569.3,517.9 L572.3,518.5 L575.3,519.0 L578.3,519.4 L581.3,519.3 L584.3,519.1 L587.3,518.4 L590.3,516.9 L593.3,517.2 L596.3,517.9 L599.3,517.8 L602.3,518.2 L605.3,517.8 L608.3,517.3 L611.3,518.0 L614.3,518.7 L617.3,518.4 L620.3,518.6 L623.3,518.8 L626.3,517.9 L629.3,518.1 L632.3,519.8 L635.3,519.3 L638.3,518.9 L641.3,520.1 L644.3,520.3 L647.3,519.0 L650.3,519.2 L653.3,519.8 L656.3,518.4 L659.3,518.2 L662.3,518.7 L665.3,518.8 L668.3,518.3 L671.3,519.1 L674.3,518.7 L677.3,517.3 L680.3,518.2 L683.3,519.2 L686.3,519.4 L689.3,518.3 L692.3,518.3 L695.3,519.2 L698.3,519.6 L701.3,518.5 L704.3,517.6 L707.3,518.1 L710.3,517.0 L713.3,516.7 L716.3,518.3 L719.3,518.4 L722.3,517.3 L725.3,518.1 L728.3,519.1 L731.3,519.1 L734.3,518.0 L737.3,517.4 L740.3,518.4 L743.3,518.1 L746.3,517.0 L749.3,517.8 L752.3,519.2 L755.3,518.0 L758.3,515.4 L761.3,515.2 L764.3,516.1 L767.3,516.9 L770.3,517.8 L773.3,517.8 L776.3,516.9 L779.3,517.1 L782.3,516.9 L785.3,516.7 L788.3,516.9 L791.3,518.5 L794.3,519.3 L797.3,517.2 L800.3,516.0 L803.3,516.2 L806.3,515.8 L809.3,515.6 L812.3,516.1 L815.3,517.0 L818.3,517.1 L821.3,516.0 L824.3,515.4 L827.3,515.2 L830.3,515.9 L833.3,516.4 L836.3,517.0 L839.3,516.7 L842.3,516.6 L845.3,517.1 L848.3,516.4 L851.3,514.9 L854.3,514.1 L857.3,515.7 L860.3,517.2 L863.3,516.8 L866.3,516.4 L869.3,515.9 L872.3,515.1 L875.3,514.9 L878.3,515.6 L881.3,516.1 L884.3,515.3 L887.3,514.8 L890.3,515.2 L893.3,515.4 L896.3,514.5 L899.3,515.2 L902.3,515.7 L905.3,514.6 L908.3,515.2 L911.3,515.7 L914.3,514.6 L917.3,514.1 L920.3,513.4 L923.3,512.5 L926.3,511.6 L929.3,512.5 L932.3,512.6 L935.3,512.0 L938.3,512.4 L941.3,511.2 L944.3,511.3 L947.3,511.8 L950.3,512.0 L953.3,512.6 L956.3,512.1 L959.3,511.2 L962.3,510.1 L965.3,509.3 L968.3,509.1 L971.3,507.7 L974.3,506.9 L977.3,506.5 L980.3,506.0 L983.3,505.6 L986.3,504.4 L989.3,503.0 L992.3,503.0 L995.3,501.6 L998.3,499.8 L1001.3,500.9 L1004.3,499.0 L1007.3,497.3 L1010.3,498.9 L1013.3,497.8 L1016.3,498.0 L1019.3,496.1 L1022.3,493.6 L1025.3,494.2 L1028.3,491.8 L1031.3,488.5 L1034.3,485.8 L1037.3,483.1 L1040.3,481.0 L1043.3,478.4 L1046.3,475.2 L1049.3,473.8 L1052.3,470.6 L1055.3,467.0 L1058.3,464.9 L1061.3,461.7 L1064.3,460.0 L1067.3,458.7 L1070.3,454.7 L1073.3,451.7 L1076.3,448.9 L1079.3,445.0 L1082.3,441.9 L1085.3,438.2 L1088.3,435.0 L1091.3,430.9 L1094.3,426.2 L1097.3,421.8 L1100.3,417.0 L1103.3,412.4 L1106.3,407.6 L1109.3,403.2 L1112.3,399.9 L1115.3,397.4 L1118.3,394.6 L1121.3,391.4 L1124.3,387.3 L1127.3,383.9 L1130.3,381.8 L1133.3,379.7 L1136.3,378.0 L1139.3,376.3 L1142.3,372.9 L1145.3,370.2 L1148.3,370.2 L1151.3,369.7 L1154.3,368.2 L1157.3,368.7 L1160.3,368.9 L1163.3,368.5 L1166.3,369.2 L1169.3,369.1 L1172.3,371.2 L1175.3,373.4 L1178.3,376.5 L1181.3,380.9 L1184.3,380.8 L1187.3,380.0 L1190.3,382.4 L1193.3,385.2 L1196.3,389.2 L1199.3,393.5 L1202.3,397.6 L1205.3,402.5 L1208.3,406.2 L1211.3,411.2 L1214.3,415.6 L1217.3,418.9 L1220.3,423.0 L1223.3,426.8 L1226.3,431.2 L1229.3,435.5 L1232.3,437.4 L1235.3,440.5 L1238.3,444.9 L1241.3,450.3 L1244.3,457.2 L1247.3,460.1 L1250.3,462.3 L1253.3,467.1 L1256.3,470.7 L1259.3,471.3 L1262.3,473.8 L1265.3,476.8 L1268.3,477.6 L1271.3,478.3 L1274.3,480.1 L1277.3,483.1 L1280.3,485.5 L1283.3,486.6 L1286.3,488.2 L1289.3,490.2 L1292.3,490.2 L1295.3,491.0 L1298.3,493.0 L1301.3,493.7 L1304.3,495.0 L1307.3,496.7 L1310.3,498.0 L1313.3,498.2 L1316.3,499.0 L1319.3,502.0 L1322.3,502.5 L1325.3,501.1 L1328.3,502.7 L1331.3,504.8 L1334.3,505.6 L1337.3,505.2 L1340.3,506.1 L1343.3,506.9 L1346.3,506.2 L1349.3,506.8 L1352.3,507.9 L1355.3,509.2 L1358.3,510.2 L1361.3,510.3 L1364.3,511.0 L1367.3,511.7 L1370.3,512.2 L1373.3,511.9 L1376.3,511.0 L1379.3,512.8 L1382.3,513.4 L1385.3,513.2 L1388.3,514.4 L1391.3,514.7 L1394.3,514.8 L1397.3,516.2 L1400.3,515.1 L1403.3,515.0 L1406.3,518.0 L1409.3,517.5 L1412.3,516.2 L1415.3,516.7 L1418.3,517.8 L1421.3,516.7 L1424.3,515.6 L1427.3,516.1 L1430.3,516.3 L1433.3,516.4 L1436.3,516.3 L1439.3,515.8 L1442.3,515.4 L1445.3,515.4 L1448.3,515.0 L1451.3,515.4 L1454.3,515.8 L1457.3,515.3 L1460.3,516.4 L1463.3,517.1 L1466.3,515.4 L1469.3,516.2 L1472.3,516.6 L1475.3,516.3 L1478.3,516.8 L1481.3,516.7 L1484.3,516.9 L1487.3,516.5 L1490.3,516.4 L1493.3,518.1 L1496.3,516.7 L1499.3,515.6 L1502.3,517.3 L1505.3,516.7 L1508.3,515.6 L1511.3,517.6 L1514.3,518.2 L1517.3,518.2 L1520.3,518.8 L1523.3,517.7 L1526.3,517.7 L1529.3,518.0 L1532.3,518.5 L1535.3,518.4 L1538.3,517.8 L1541.3,517.7 L1544.3,518.5 L1547.3,518.9 L1550.3,517.5 L1553.3,516.7 L1556.3,517.5 L1559.3,517.6 L1562.3,517.2 L1565.3,517.0 L1568.3,517.1 L1571.3,518.0 L1574.3,518.7 L1577.3,518.5 L1580.3,519.2 L1583.3,519.2 L1586.3,519.9 L1589.3,520.5 L1592.3,519.0 L1595.3,518.1 L1598.3,516.1 L1601.3,516.3 L1604.3,518.2 L1607.3,519.4 L1610.3,518.5 L1613.3,518.5 L1616.3,519.2 L1619.3,518.6 L1622.3,517.2 L1625.3,516.9 L1628.3,518.2 L1631.3,518.6 L1634.3,518.8 L1637.3,517.8 L1640.3,518.3 L1643.3,519.4 L1646.3,519.2 L1649.3,519.4 L1652.3,519.8 L1655.3,519.2 L1658.3,517.7 L1661.3,516.9 L1664.3,518.5 L1667.3,519.8 L1670.3,519.1 L1673.3,518.4 L1676.3,518.4 L1679.3,518.7 L1682.3,518.5 L1685.3,518.0 L1688.3,519.6 L1691.3,520.1 L1694.3,518.5 L1697.3,517.6 L1700.3,517.5 L1703.3,518.7 L1706.3,519.7 L1709.3,519.1 L1712.3,518.7 L1715.3,518.6 L1718.3,518.0 L1721.3,518.9 L1724.3,519.8 L1727.3,520.6 L1730.3,519.9 L1733.3,518.3 L1736.3,519.3 L1739.3,519.3 L1742.3,517.9 L1745.3,517.5 L1748.3,518.4 L1751.3,519.2 L1754.3,519.1 L1757.3,519.5 L1760.3,520.2 L1763.3,519.8 L1766.3,519.2 L1769.3,518.9 L1772.3,519.2 L1775.3,519.9 L1778.3,519.6 L1781.3,519.3 L1784.3,519.1 L1787.3,518.0 L1790.3,517.6 L1793.3,518.9 L1796.3,519.8 L1799.3,520.3 L1802.3,520.1 L1805.3,519.7 L1808.3,520.4 L1811.3,520.5 L1814.3,519.4 L1817.3,518.7 L1820.3,519.1 L1823.3,518.6 L1826.3,518.9 L1829.3,520.1 L1832.3,519.5 L1835.3,520.1 L1838.3,520.2 L1841.3,518.9 L1844.3,518.9 L1847.3,518.6 L1850.3,519.0 L1853.3,519.5 L1856.3,520.2 L1859.3,520.6 L1862.3,519.9 L1865.3,519.4 L1868.3,518.3 L1871.3,518.4 L1874.3,518.7 L1877.3,519.3 L1880.3,519.8 L1883.3,520.3 L1886.3,520.7 L1889.3,520.2 L1892.3,519.9 L1895.3,519.6 L1898.3,519.8 L1901.3,520.3 L1904.3,519.4 L1907.3,519.2 L1910.3,521.2 L1913.3,520.9 L1916.3,519.1 L1919.3,518.8 L1922.3,518.1 L1925.3,519.2 L1928.3,520.1 L1931.3,519.6 L1934.3,520.7 L1937.3,522.0 L1940.3,520.4 L1943.3,519.5 L1946.3,520.4 L1949.3,520.0 L1952.3,519.9 L1955.3,519.7 L1958.3,520.3 L1961.3,520.7 L1964.3,520.0 L1967.3,520.4 L1970.3,520.7 L1973.3,520.2 L1976.3,519.9 L1979.3,520.7 L1982.3,520.8 L1985.3,519.7 L1988.3,518.9 L1991.3,518.7 L1994.3,518.6 L1997.3,518.9 L2000.3,519.7 L2003.3,518.4 L2006.3,518.3 L2009.3,519.9 L2012.3,520.0 L2015.3,519.0 L2018.3,519.7 L2021.3,519.8 L2024.3,518.3 L2027.3,518.1" fill="none" stroke="#800080" stroke-width="8.5" stroke-linejoin="round"/>
<path d="M413.3,374.8 L416.3,375.2 L419.3,375.6 L422.3,375.3 L425.3,374.5 L428.3,374.2 L431.3,374.3 L434.3,374.4 L437.3,374.1 L440.3,374.2 L443.3,375.0 L446.3,374.9 L449.3,374.9 L452.3,374.6 L455.3,373.9 L458.3,374.0 L461.3,374.9 L464.3,375.5 L467.3,374.9 L470.3,375.0 L473.3,375.0 L476.3,375.1 L479.3,375.4 L482.3,374.7 L485.3,374.8 L488.3,374.7 L491.3,374.1 L494.3,373.8 L497.3,374.2 L500.3,374.7 L503.3,374.6 L506.3,374.4 L509.3,375.0 L512.3,374.9 L515.3,374.2 L518.3,374.8 L521.3,375.5 L524.3,375.2 L527.3,374.0 L530.3,373.7 L533.3,374.5 L536.3,374.7 L539.3,375.0 L542.3,374.6 L545.3,374.2 L548.3,374.5 L551.3,374.7 L554.3,374.9 L557.3,374.8 L560.3,374.6 L563.3,373.7 L566.3,373.5 L569.3,373.8 L572.3,373.8 L575.3,374.4 L578.3,375.2 L581.3,374.9 L584.3,374.1 L587.3,373.9 L590.3,374.0 L593.3,374.5 L596.3,374.9 L599.3,374.5 L602.3,374.3 L605.3,373.4 L608.3,373.2 L611.3,373.5 L614.3,373.9 L617.3,374.3 L620.3,373.9 L623.3,373.7 L626.3,374.5 L629.3,374.3 L632.3,373.4 L635.3,373.7 L638.3,373.7 L641.3,373.6 L644.3,374.0 L647.3,374.8 L650.3,373.9 L653.3,373.3 L656.3,373.9 L659.3,373.9 L662.3,373.8 L665.3,373.7 L668.3,374.1 L671.3,374.0 L674.3,373.6 L677.3,373.7 L680.3,373.8 L683.3,373.7 L686.3,374.0 L689.3,374.0 L692.3,373.7 L695.3,373.7 L698.3,373.2 L701.3,372.9 L704.3,372.9 L707.3,373.2 L710.3,373.3 L713.3,372.8 L716.3,373.1 L719.3,373.7 L722.3,372.9 L725.3,373.3 L728.3,373.9 L731.3,373.2 L734.3,373.6 L737.3,373.6 L740.3,373.0 L743.3,373.7 L746.3,373.5 L749.3,372.6 L752.3,373.3 L755.3,372.9 L758.3,372.5 L761.3,373.0 L764.3,373.8 L767.3,373.3 L770.3,372.4 L773.3,372.9 L776.3,372.9 L779.3,372.2 L782.3,372.3 L785.3,372.7 L788.3,372.7 L791.3,373.0 L794.3,373.1 L797.3,372.8 L800.3,372.5 L803.3,371.9 L806.3,371.7 L809.3,372.1 L812.3,372.0 L815.3,371.9 L818.3,371.6 L821.3,372.1 L824.3,373.1 L827.3,372.3 L830.3,371.6 L833.3,371.6 L836.3,371.8 L839.3,372.0 L842.3,371.5 L845.3,371.2 L848.3,371.1 L851.3,370.8 L854.3,370.9 L857.3,370.9 L860.3,370.7 L863.3,370.9 L866.3,371.0 L869.3,370.8 L872.3,370.7 L875.3,370.3 L878.3,370.0 L881.3,370.1 L884.3,369.9 L887.3,369.8 L890.3,370.0 L893.3,369.1 L896.3,368.7 L899.3,368.8 L902.3,368.9 L905.3,368.6 L908.3,367.6 L911.3,367.6 L914.3,368.3 L917.3,368.2 L920.3,367.5 L923.3,367.5 L926.3,366.6 L929.3,366.4 L932.3,367.0 L935.3,366.8 L938.3,366.6 L941.3,366.3 L944.3,365.6 L947.3,365.2 L950.3,365.0 L953.3,365.4 L956.3,364.9 L959.3,363.9 L962.3,362.9 L965.3,362.0 L968.3,362.0 L971.3,361.2 L974.3,359.7 L977.3,359.2 L980.3,358.6 L983.3,358.4 L986.3,356.8 L989.3,355.3 L992.3,355.3 L995.3,353.7 L998.3,352.0 L1001.3,351.3 L1004.3,350.7 L1007.3,348.8 L1010.3,346.2 L1013.3,345.2 L1016.3,344.6 L1019.3,342.3 L1022.3,339.1 L1025.3,337.7 L1028.3,336.3 L1031.3,334.0 L1034.3,331.8 L1037.3,328.9 L1040.3,326.2 L1043.3,324.1 L1046.3,321.8 L1049.3,317.4 L1052.3,313.3 L1055.3,311.3 L1058.3,307.9 L1061.3,302.6 L1064.3,297.9 L1067.3,293.3 L1070.3,288.1 L1073.3,283.1 L1076.3,278.7 L1079.3,274.7 L1082.3,271.0 L1085.3,267.0 L1088.3,262.8 L1091.3,258.9 L1094.3,255.3 L1097.3,251.3 L1100.3,246.8 L1103.3,243.1 L1106.3,239.6 L1109.3,236.7 L1112.3,234.2 L1115.3,232.1 L1118.3,230.3 L1121.3,227.5 L1124.3,224.9 L1127.3,223.5 L1130.3,222.7 L1133.3,221.6 L1136.3,220.7 L1139.3,220.5 L1142.3,222.0 L1145.3,224.2 L1148.3,225.7 L1151.3,226.3 L1154.3,227.6 L1157.3,229.1 L1160.3,230.5 L1163.3,233.0 L1166.3,235.1 L1169.3,237.6 L1172.3,240.2 L1175.3,243.5 L1178.3,247.6 L1181.3,252.6 L1184.3,258.0 L1187.3,263.0 L1190.3,267.6 L1193.3,271.1 L1196.3,275.2 L1199.3,279.3 L1202.3,283.3 L1205.3,287.5 L1208.3,290.6 L1211.3,294.1 L1214.3,298.0 L1217.3,301.3 L1220.3,304.9 L1223.3,309.4 L1226.3,313.5 L1229.3,317.4 L1232.3,320.8 L1235.3,323.8 L1238.3,326.4 L1241.3,327.2 L1244.3,328.7 L1247.3,331.1 L1250.3,332.5 L1253.3,334.4 L1256.3,336.5 L1259.3,339.0 L1262.3,340.8 L1265.3,342.2 L1268.3,344.9 L1271.3,346.3 L1274.3,346.9 L1277.3,348.0 L1280.3,348.6 L1283.3,349.9 L1286.3,351.7 L1289.3,352.5 L1292.3,353.7 L1295.3,355.6 L1298.3,356.8 L1301.3,356.7 L1304.3,356.8 L1307.3,357.5 L1310.3,358.9 L1313.3,360.3 L1316.3,360.7 L1319.3,360.8 L1322.3,360.6 L1325.3,361.4 L1328.3,362.4 L1331.3,362.5 L1334.3,363.0 L1337.3,363.9 L1340.3,364.4 L1343.3,364.2 L1346.3,363.8 L1349.3,364.5 L1352.3,365.7 L1355.3,366.0 L1358.3,366.2 L1361.3,366.3 L1364.3,367.0 L1367.3,367.5 L1370.3,367.6 L1373.3,367.5 L1376.3,367.5 L1379.3,368.1 L1382.3,368.2 L1385.3,367.9 L1388.3,368.3 L1391.3,369.4 L1394.3,369.7 L1397.3,370.0 L1400.3,370.0 L1403.3,369.5 L1406.3,369.2 L1409.3,369.2 L1412.3,370.3 L1415.3,370.7 L1418.3,370.6 L1421.3,370.8 L1424.3,370.7 L1427.3,370.5 L1430.3,370.6 L1433.3,371.0 L1436.3,371.2 L1439.3,371.2 L1442.3,371.2 L1445.3,370.8 L1448.3,370.8 L1451.3,370.8 L1454.3,371.3 L1457.3,371.0 L1460.3,370.6 L1463.3,372.3 L1466.3,372.3 L1469.3,371.1 L1472.3,371.3 L1475.3,372.2 L1478.3,372.2 L1481.3,372.1 L1484.3,372.2 L1487.3,371.9 L1490.3,373.0 L1493.3,373.3 L1496.3,372.0 L1499.3,371.9 L1502.3,372.2 L1505.3,372.6 L1508.3,372.8 L1511.3,372.8 L1514.3,372.0 L1517.3,372.2 L1520.3,372.7 L1523.3,372.4 L1526.3,372.0 L1529.3,372.0 L1532.3,372.3 L1535.3,372.5 L1538.3,372.3 L1541.3,372.4 L1544.3,373.0 L1547.3,372.6 L1550.3,372.4 L1553.3,372.5 L1556.3,373.1 L1559.3,372.5 L1562.3,372.1 L1565.3,372.5 L1568.3,372.5 L1571.3,373.4 L1574.3,373.3 L1577.3,373.1 L1580.3,373.1 L1583.3,373.7 L1586.3,374.4 L1589.3,374.1 L1592.3,373.4 L1595.3,372.6 L1598.3,373.5 L1601.3,373.8 L1604.3,373.4 L1607.3,373.6 L1610.3,373.3 L1613.3,373.4 L1616.3,373.9 L1619.3,373.8 L1622.3,373.6 L1625.3,373.6 L1628.3,373.7 L1631.3,373.8 L1634.3,374.5 L1637.3,374.5 L1640.3,374.3 L1643.3,374.2 L1646.3,373.1 L1649.3,373.2 L1652.3,374.1 L1655.3,373.8 L1658.3,373.9 L1661.3,373.4 L1664.3,373.3 L1667.3,374.0 L1670.3,374.7 L1673.3,374.3 L1676.3,373.5 L1679.3,374.2 L1682.3,374.3 L1685.3,374.5 L1688.3,374.8 L1691.3,373.8 L1694.3,374.2 L1697.3,375.1 L1700.3,374.2 L1703.3,374.2 L1706.3,374.6 L1709.3,374.6 L1712.3,374.6 L1715.3,373.5 L1718.3,373.9 L1721.3,374.8 L1724.3,375.3 L1727.3,375.6 L1730.3,375.1 L1733.3,374.5 L1736.3,374.1 L1739.3,374.0 L1742.3,373.9 L1745.3,374.0 L1748.3,373.4 L1751.3,373.5 L1754.3,374.4 L1757.3,375.3 L1760.3,375.6 L1763.3,374.5 L1766.3,374.5 L1769.3,374.2 L1772.3,373.8 L1775.3,373.6 L1778.3,374.3 L1781.3,375.2 L1784.3,374.3 L1787.3,374.1 L1790.3,374.8 L1793.3,375.0 L1796.3,374.8 L1799.3,374.4 L1802.3,374.0 L1805.3,374.4 L1808.3,374.9 L1811.3,374.6 L1814.3,373.9 L1817.3,374.6 L1820.3,374.7 L1823.3,374.7 L1826.3,375.1 L1829.3,375.0 L1832.3,375.6 L1835.3,375.5 L1838.3,375.2 L1841.3,374.6 L1844.3,374.1 L1847.3,374.7 L1850.3,375.4 L1853.3,375.7 L1856.3,376.0 L1859.3,375.6 L1862.3,374.9 L1865.3,375.1 L1868.3,375.1 L1871.3,374.7 L1874.3,374.4 L1877.3,374.7 L1880.3,374.7 L1883.3,374.6 L1886.3,374.4 L1889.3,374.7 L1892.3,374.8 L1895.3,374.7 L1898.3,374.5 L1901.3,374.1 L1904.3,375.1 L1907.3,374.9 L1910.3,374.6 L1913.3,374.7 L1916.3,373.9 L1919.3,374.1 L1922.3,375.1 L1925.3,374.6 L1928.3,374.7 L1931.3,374.8 L1934.3,374.2 L1937.3,374.5 L1940.3,374.6 L1943.3,375.4 L1946.3,375.1 L1949.3,374.6 L1952.3,375.5 L1955.3,374.5 L1958.3,373.6 L1961.3,374.5 L1964.3,374.9 L1967.3,374.9 L1970.3,375.5 L1973.3,375.2 L1976.3,374.4 L1979.3,373.6 L1982.3,374.1 L1985.3,374.7 L1988.3,374.7 L1991.3,375.1 L1994.3,374.6 L1997.3,375.1 L2000.3,375.9 L2003.3,375.6 L2006.3,374.9 L2009.3,374.4 L2012.3,374.6 L2015.3,374.6 L2018.3,374.4 L2021.3,374.8 L2024.3,375.2 L2027.3,375.2" fill="none" stroke="#8b0000" stroke-width="8.5" stroke-linejoin="round"/>
<line x1="1251.9" y1="202.4" x2="1251.9" y2="1271.0" stroke="#000" stroke-width="8" stroke-dasharray="34.5 27.55"/>
<rect x="413.3" y="81.0" width="1614.7" height="1190.0" fill="none" stroke="#000" stroke-width="4.2"/>
<path d="M413.3,1271.0 V1246.0 M574.8,1271.0 V1258.0 M736.2,1271.0 V1246.0 M897.7,1271.0 V1258.0 M1059.2,1271.0 V1246.0 M1220.7,1271.0 V1258.0 M1382.1,1271.0 V1246.0 M1543.6,1271.0 V1258.0 M1705.1,1271.0 V1246.0 M1866.5,1271.0 V1258.0 M2028.0,1271.0 V1246.0" stroke="#000" stroke-width="4" fill="none"/>
<text x="413.3" y="1341" font-size="59.1" text-anchor="middle" class="b">32</text>
<text x="736.2" y="1341" font-size="59.1" text-anchor="middle" class="b">33</text>
<text x="1059.2" y="1341" font-size="59.1" text-anchor="middle" class="b">34</text>
<text x="1382.1" y="1341" font-size="59.1" text-anchor="middle" class="b">35</text>
<text x="1705.1" y="1341" font-size="59.1" text-anchor="middle" class="b">36</text>
<text x="2028.0" y="1341" font-size="59.1" text-anchor="middle" class="b">37</text>
<text x="1737.2" y="353.4" font-size="65" class="b">5.0 wt.%</text>
<text x="1737.2" y="499.2" font-size="65" class="b">3.0 wt.%</text>
<text x="1737.2" y="645" font-size="65" class="b">2.0 wt.%</text>
<text x="1737.2" y="778.1" font-size="65" class="b">1.5 wt.%</text>
<text x="1737.2" y="913.7" font-size="65" class="b">1.0 wt.%</text>
<text x="1737.2" y="1053.1" font-size="65" class="b">0.5 wt.%</text>
<text x="1704.5" y="1213" font-size="65.5" class="b">Undoped</text>
<text x="1074.7" y="159.5" font-size="64.9" class="b">ZnO (002)</text>
<text transform="translate(358.7,1019.5) rotate(-90)" font-size="92.3" class="b">Intensity (a.u.)</text>
<text x="1013.8" y="1445" font-size="93" class="b">2</text>
<text transform="translate(1063.7,1444.7) scale(1.18,1)" font-size="84" class="s" stroke="#000" stroke-width="1.1">θ</text>
<text x="1133.4" y="1445" font-size="59.6" class="s" stroke="#000" stroke-width="2.5">(</text>
<text x="1153.05" y="1444.6" font-size="91.25" class="b">degree</text>
<text x="1451" y="1445" font-size="63" class="b">)</text>
<text transform="translate(24.7,163.8) scale(1,1.024)" font-size="158" class="b">(a)</text>
</g>
<g id="panel-b">
<rect x="413.3" y="1485.2" width="1616.7" height="1303.1000000000001" fill="none" stroke="#000" stroke-width="5"/>
<path d="M455.6,2788.3 V2774.3 M525.3,2788.3 V2762.3 M595.0,2788.3 V2774.3 M664.7,2788.3 V2762.3 M734.4,2788.3 V2774.3 M804.1,2788.3 V2762.3 M873.8,2788.3 V2774.3 M943.5,2788.3 V2762.3 M1013.2,2788.3 V2774.3 M1082.9,2788.3 V2762.3 M1152.6,2788.3 V2774.3 M1222.3,2788.3 V2762.3 M1292.0,2788.3 V2774.3 M1361.7,2788.3 V2762.3 M1431.4,2788.3 V2774.3 M1501.1,2788.3 V2762.3 M1570.8,2788.3 V2774.3 M1640.5,2788.3 V2762.3 M1710.2,2788.3 V2774.3 M1779.9,2788.3 V2762.3 M1849.6,2788.3 V2774.3 M1919.3,2788.3 V2762.3 M1989.0,2788.3 V2774.3 M413.3,2788.3 H386.3 M413.3,2695.2 H399.3 M413.3,2602.1 H386.3 M413.3,2509.1 H399.3 M413.3,2416.0 H386.3 M413.3,2322.9 H399.3 M413.3,2229.8 H386.3 M413.3,2136.7 H399.3 M413.3,2043.7 H386.3 M413.3,1950.6 H399.3 M413.3,1857.5 H386.3 M413.3,1764.4 H399.3 M413.3,1671.4 H386.3 M413.3,1578.3 H399.3 M413.3,1485.2 H386.3" stroke="#000" stroke-width="4" fill="none" stroke-linecap="butt"/>
<text x="372.1" y="2801.8" font-size="53.5" text-anchor="end" class="b">5.18</text>
<text x="372.1" y="2615.6" font-size="53.5" text-anchor="end" class="b">5.19</text>
<text x="372.1" y="2429.5" font-size="53.5" text-anchor="end" class="b">5.20</text>
<text x="372.1" y="2243.3" font-size="53.5" text-anchor="end" class="b">5.21</text>
<text x="372.1" y="2057.2" font-size="53.5" text-anchor="end" class="b">5.22</text>
<text x="372.1" y="1871.0" font-size="53.5" text-anchor="end" class="b">5.23</text>
<text x="372.1" y="1684.9" font-size="53.5" text-anchor="end" class="b">5.24</text>
<text x="372.1" y="1498.7" font-size="53.5" text-anchor="end" class="b">5.25</text>
<text x="525.3" y="2856" font-size="53.7" text-anchor="middle" class="b">0.0</text>
<text x="664.7" y="2856" font-size="53.7" text-anchor="middle" class="b">0.5</text>
<text x="804.1" y="2856" font-size="53.7" text-anchor="middle" class="b">1.0</text>
<text x="943.5" y="2856" font-size="53.7" text-anchor="middle" class="b">1.5</text>
<text x="1082.9" y="2856" font-size="53.7" text-anchor="middle" class="b">2.0</text>
<text x="1222.3" y="2856" font-size="53.7" text-anchor="middle" class="b">2.5</text>
<text x="1361.7" y="2856" font-size="53.7" text-anchor="middle" class="b">3.0</text>
<text x="1501.1" y="2856" font-size="53.7" text-anchor="middle" class="b">3.5</text>
<text x="1640.5" y="2856" font-size="53.7" text-anchor="middle" class="b">4.0</text>
<text x="1779.9" y="2856" font-size="53.7" text-anchor="middle" class="b">4.5</text>
<text x="1919.3" y="2856" font-size="53.7" text-anchor="middle" class="b">5.0</text>
<line x1="1012" y1="1486.2" x2="1012" y2="2788.3" stroke="#000" stroke-width="6" stroke-dasharray="27 20.05"/>
<line x1="525.3" y1="2616.1" x2="1215.3" y2="1917.8" stroke="#0000ff" stroke-opacity="0.76" stroke-width="11.5" stroke-dasharray="39 14.76" stroke-dashoffset="19.56"/>
<line x1="889.0" y1="2181.8" x2="1968.7" y2="1673.9" stroke="#ff0000" stroke-opacity="0.8" stroke-width="11.5" stroke-dasharray="39 14.76"/>
<circle cx="525.3" cy="2633.7" r="34.6" fill="#000"/>
<circle cx="515.3" cy="2623.7" r="17.2" fill="url(#hl)"/>
<circle cx="664.7" cy="2442.5" r="34.6" fill="#000"/>
<circle cx="654.7" cy="2432.5" r="17.2" fill="url(#hl)"/>
<circle cx="804.1" cy="2334.5" r="34.6" fill="#000"/>
<circle cx="794.1" cy="2324.5" r="17.2" fill="url(#hl)"/>
<circle cx="943.5" cy="2231.6" r="34.6" fill="#000"/>
<circle cx="933.5" cy="2221.6" r="17.2" fill="url(#hl)"/>
<circle cx="1082.9" cy="2105.0" r="34.6" fill="#000"/>
<circle cx="1072.9" cy="2095.0" r="17.2" fill="url(#hl)"/>
<circle cx="1361.7" cy="1910.8" r="34.6" fill="#000"/>
<circle cx="1351.7" cy="1900.8" r="17.2" fill="url(#hl)"/>
<circle cx="1919.3" cy="1720.8" r="34.6" fill="#000"/>
<circle cx="1909.3" cy="1710.8" r="17.2" fill="url(#hl)"/>
<text x="699.4" y="2029.7" font-size="60.5" text-anchor="middle" class="b">Region: I</text>
<text x="701.7" y="2103" font-size="60.5" text-anchor="middle" class="b">n-type</text>
<text x="1568.5" y="2030" font-size="60.5" text-anchor="middle" class="b">Region: II</text>
<text x="1569.7" y="2103" font-size="60.5" text-anchor="middle" class="b">p-type</text>
<text transform="translate(202.1,2545.3) rotate(-90)" font-size="101.9" class="b">c-axis (angstrom)</text>
<text x="955.9" y="2967.5" font-size="100.5" class="b">Sb</text>
<text x="1080.4" y="3006" font-size="60" class="b">2</text>
<text x="1111.8" y="2967.5" font-size="104" class="b">O</text>
<text x="1189.3" y="3006" font-size="60" class="b">3</text>
<text x="1241.9" y="2967.3" font-size="83.8" class="b">(wt.%)</text>
<text transform="translate(24.5,1395.5) scale(1,1.024)" font-size="158" class="b">(b)</text>
</g>
</svg>
</body></html>
